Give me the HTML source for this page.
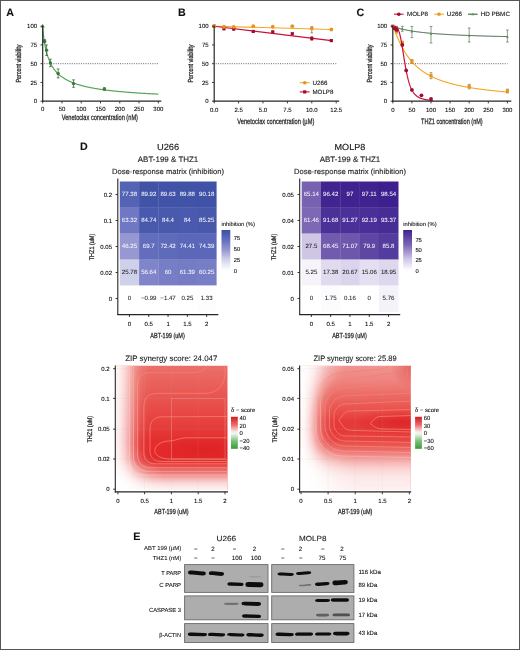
<!DOCTYPE html>
<html><head><meta charset="utf-8"><title>Figure</title>
<style>
html,body{margin:0;padding:0;background:#fff;}
body{width:520px;height:650px;overflow:hidden;}
svg{display:block;font-family:"Liberation Sans",sans-serif;text-rendering:geometricPrecision;will-change:transform;}
</style></head><body>
<svg width="520" height="650" viewBox="0 0 520 650">
<rect width="520" height="650" fill="#fff"/>
<defs><filter id="soft" x="-5%" y="-5%" width="110%" height="110%"><feGaussianBlur stdDeviation="0.35"/></filter></defs>
<text x="6.2" y="15.8" font-size="10.7" stroke="#111" stroke-width="0.1" fill="#111" font-weight="bold" stroke="#111" stroke-width="0.35">A</text>
<line x1="44.2" y1="63.7" x2="158.5" y2="63.7" stroke="#555" stroke-width="0.9" stroke-dasharray="1 1.3"/>
<path d="M42.7 26.2 L42.89 29.2 L43.09 31.44 L43.28 33.4 L43.47 35.15 L43.66 36.76 L43.86 38.24 L44.05 39.63 L44.24 40.92 L44.43 42.14 L44.63 43.3 L44.82 44.39 L45.01 45.43 L45.21 46.42 L45.4 47.36 L45.59 48.26 L45.78 49.13 L45.98 49.96 L46.17 50.75 L46.36 51.52 L46.55 52.25 L46.75 52.96 L46.94 53.65 L47.13 54.31 L47.32 54.95 L47.52 55.56 L47.71 56.16 L47.9 56.74 L48.1 57.3 L48.29 57.85 L48.48 58.37 L48.67 58.89 L48.87 59.39 L49.06 59.87 L49.25 60.34 L49.44 60.8 L49.64 61.25 L49.83 61.68 L50.02 62.11 L50.22 62.52 L50.41 62.92 L50.6 63.32 L50.79 63.7 L50.99 64.08 L51.18 64.44 L51.37 64.8 L51.56 65.15 L51.76 65.49 L51.95 65.83 L52.14 66.15 L52.34 66.47 L52.53 66.79 L52.72 67.09 L52.91 67.4 L53.11 67.69 L53.3 67.98 L53.49 68.26 L53.68 68.54 L53.88 68.81 L54.07 69.08 L54.26 69.34 L54.45 69.6 L54.65 69.85 L54.84 70.1 L55.03 70.34 L55.23 70.58 L55.42 70.82 L55.61 71.05 L55.8 71.27 L56 71.5 L56.19 71.72 L56.38 71.93 L56.57 72.14 L56.77 72.35 L56.96 72.56 L57.15 72.76 L57.35 72.96 L57.54 73.15 L57.73 73.34 L57.92 73.53 L58.12 73.72 L58.31 73.9 L58.5 74.08 L58.69 74.26 L58.89 74.44 L59.08 74.61 L59.27 74.78 L59.46 74.95 L59.66 75.11 L59.85 75.28 L60.04 75.44 L60.24 75.6 L60.43 75.75 L60.62 75.91 L60.81 76.06 L61.01 76.21 L61.2 76.36 L61.39 76.5 L61.58 76.65 L61.78 76.79 L61.97 76.93 L62.16 77.07 L62.36 77.21 L62.55 77.34 L62.74 77.48 L62.93 77.61 L63.13 77.74 L63.32 77.87 L63.51 77.99 L63.7 78.12 L63.9 78.24 L64.09 78.36 L64.28 78.49 L64.48 78.6 L64.67 78.72 L64.86 78.84 L65.05 78.95 L65.25 79.07 L65.44 79.18 L65.63 79.29 L65.82 79.4 L66.02 79.51 L66.21 79.62 L66.4 79.73 L66.59 79.83 L66.79 79.94 L66.98 80.04 L67.17 80.14 L67.37 80.24 L67.56 80.34 L67.75 80.44 L67.94 80.54 L68.14 80.63 L68.33 80.73 L68.52 80.82 L68.71 80.92 L68.91 81.01 L69.1 81.1 L69.29 81.19 L69.49 81.28 L69.68 81.37 L69.87 81.46 L70.06 81.55 L70.26 81.63 L70.45 81.72 L70.64 81.8 L70.83 81.89 L71.03 81.97 L71.22 82.05 L71.41 82.13 L71.61 82.22 L71.8 82.3 L71.99 82.37 L72.18 82.45 L72.38 82.53 L72.57 82.61 L72.76 82.68 L72.95 82.76 L73.15 82.84 L73.34 82.91 L73.53 82.98 L73.72 83.06 L73.92 83.13 L74.11 83.2 L74.3 83.27 L74.5 83.34 L74.69 83.41 L74.88 83.48 L75.07 83.55 L75.27 83.62 L75.46 83.68 L75.65 83.75 L75.84 83.82 L76.04 83.88 L76.23 83.95 L76.42 84.01 L76.62 84.08 L76.81 84.14 L77 84.2 L77.19 84.27 L77.39 84.33 L77.58 84.39 L77.77 84.45 L77.96 84.51 L78.16 84.57 L78.35 84.63 L78.54 84.69 L78.73 84.75 L78.93 84.81 L79.12 84.86 L79.31 84.92 L79.51 84.98 L79.7 85.03 L79.89 85.09 L80.08 85.15 L80.28 85.2 L80.47 85.26 L80.66 85.31 L80.85 85.36 L81.05 85.42 L81.24 85.47 L81.43 85.52 L81.63 85.58 L81.82 85.63 L82.01 85.68 L82.2 85.73 L82.4 85.78 L82.59 85.83 L82.78 85.88 L82.97 85.93 L83.17 85.98 L83.36 86.03 L83.55 86.08 L83.75 86.13 L83.94 86.17 L84.13 86.22 L84.32 86.27 L84.52 86.31 L84.71 86.36 L84.9 86.41 L85.09 86.45 L85.29 86.5 L85.48 86.54 L85.67 86.59 L85.86 86.63 L86.06 86.68 L86.25 86.72 L86.44 86.77 L86.64 86.81 L86.83 86.85 L87.02 86.9 L87.21 86.94 L87.41 86.98 L87.6 87.02 L87.79 87.06 L87.98 87.11 L88.18 87.15 L88.37 87.19 L88.56 87.23 L88.76 87.27 L88.95 87.31 L89.14 87.35 L89.33 87.39 L89.53 87.43 L89.72 87.47 L89.91 87.51 L90.1 87.55 L90.3 87.58 L90.49 87.62 L90.68 87.66 L90.88 87.7 L91.07 87.74 L91.26 87.77 L91.45 87.81 L91.65 87.85 L91.84 87.88 L92.03 87.92 L92.22 87.96 L92.42 87.99 L92.61 88.03 L92.8 88.06 L92.99 88.1 L93.19 88.13 L93.38 88.17 L93.57 88.2 L93.77 88.24 L93.96 88.27 L94.15 88.31 L94.34 88.34 L94.54 88.37 L94.73 88.41 L94.92 88.44 L95.11 88.47 L95.31 88.51 L95.5 88.54 L95.69 88.57 L95.89 88.6 L96.08 88.64 L96.27 88.67 L96.46 88.7 L96.66 88.73 L96.85 88.76 L97.04 88.8 L97.23 88.83 L97.43 88.86 L97.62 88.89 L97.81 88.92 L98 88.95 L98.2 88.98 L98.39 89.01 L98.58 89.04 L98.78 89.07 L98.97 89.1 L99.16 89.13 L99.35 89.16 L99.55 89.19 L99.74 89.22 L99.93 89.24 L100.12 89.27 L100.32 89.3 L100.51 89.33 L100.7 89.36 L100.9 89.39 L101.09 89.41 L101.28 89.44 L101.47 89.47 L101.67 89.5 L101.86 89.52 L102.05 89.55 L102.24 89.58 L102.44 89.61 L102.63 89.63 L102.82 89.66 L103.02 89.69 L103.21 89.71 L103.4 89.74 L103.59 89.76 L103.79 89.79 L103.98 89.82 L104.17 89.84 L104.36 89.87 L104.56 89.89 L104.75 89.92 L104.94 89.94 L105.13 89.97 L105.33 89.99 L105.52 90.02 L105.71 90.04 L105.91 90.07 L106.1 90.09 L106.29 90.12 L106.48 90.14 L106.68 90.17 L106.87 90.19 L107.06 90.21 L107.25 90.24 L107.45 90.26 L107.64 90.28 L107.83 90.31 L108.03 90.33 L108.22 90.35 L108.41 90.38 L108.6 90.4 L108.8 90.42 L108.99 90.45 L109.18 90.47 L109.37 90.49 L109.57 90.51 L109.76 90.54 L109.95 90.56 L110.15 90.58 L110.34 90.6 L110.53 90.63 L110.72 90.65 L110.92 90.67 L111.11 90.69 L111.3 90.71 L111.49 90.73 L111.69 90.76 L111.88 90.78 L112.07 90.8 L112.26 90.82 L112.46 90.84 L112.65 90.86 L112.84 90.88 L113.04 90.9 L113.23 90.92 L113.42 90.94 L113.61 90.96 L113.81 90.98 L114 91 L114.19 91.02 L114.38 91.05 L114.58 91.07 L114.77 91.09 L114.96 91.1 L115.16 91.12 L115.35 91.14 L115.54 91.16 L115.73 91.18 L115.93 91.2 L116.12 91.22 L116.31 91.24 L116.5 91.26 L116.7 91.28 L116.89 91.3 L117.08 91.32 L117.27 91.34 L117.47 91.36 L117.66 91.37 L117.85 91.39 L118.05 91.41 L118.24 91.43 L118.43 91.45 L118.62 91.47 L118.82 91.48 L119.01 91.5 L119.2 91.52 L119.39 91.54 L119.59 91.56 L119.78 91.57 L119.97 91.59 L120.17 91.61 L120.36 91.63 L120.55 91.65 L120.74 91.66 L120.94 91.68 L121.13 91.7 L121.32 91.71 L121.51 91.73 L121.71 91.75 L121.9 91.77 L122.09 91.78 L122.29 91.8 L122.48 91.82 L122.67 91.83 L122.86 91.85 L123.06 91.87 L123.25 91.88 L123.44 91.9 L123.63 91.92 L123.83 91.93 L124.02 91.95 L124.21 91.97 L124.4 91.98 L124.6 92 L124.79 92.01 L124.98 92.03 L125.18 92.05 L125.37 92.06 L125.56 92.08 L125.75 92.09 L125.95 92.11 L126.14 92.13 L126.33 92.14 L126.52 92.16 L126.72 92.17 L126.91 92.19 L127.1 92.2 L127.3 92.22 L127.49 92.23 L127.68 92.25 L127.87 92.26 L128.07 92.28 L128.26 92.29 L128.45 92.31 L128.64 92.32 L128.84 92.34 L129.03 92.35 L129.22 92.37 L129.42 92.38 L129.61 92.4 L129.8 92.41 L129.99 92.43 L130.19 92.44 L130.38 92.46 L130.57 92.47 L130.76 92.49 L130.96 92.5 L131.15 92.51 L131.34 92.53 L131.53 92.54 L131.73 92.56 L131.92 92.57 L132.11 92.58 L132.31 92.6 L132.5 92.61 L132.69 92.63 L132.88 92.64 L133.08 92.65 L133.27 92.67 L133.46 92.68 L133.65 92.69 L133.85 92.71 L134.04 92.72 L134.23 92.74 L134.43 92.75 L134.62 92.76 L134.81 92.78 L135 92.79 L135.2 92.8 L135.39 92.81 L135.58 92.83 L135.77 92.84 L135.97 92.85 L136.16 92.87 L136.35 92.88 L136.54 92.89 L136.74 92.91 L136.93 92.92 L137.12 92.93 L137.32 92.94 L137.51 92.96 L137.7 92.97 L137.89 92.98 L138.09 92.99 L138.28 93.01 L138.47 93.02 L138.66 93.03 L138.86 93.04 L139.05 93.06 L139.24 93.07 L139.44 93.08 L139.63 93.09 L139.82 93.11 L140.01 93.12 L140.21 93.13 L140.4 93.14 L140.59 93.15 L140.78 93.17 L140.98 93.18 L141.17 93.19 L141.36 93.2 L141.56 93.21 L141.75 93.23 L141.94 93.24 L142.13 93.25 L142.33 93.26 L142.52 93.27 L142.71 93.28 L142.9 93.3 L143.1 93.31 L143.29 93.32 L143.48 93.33 L143.67 93.34 L143.87 93.35 L144.06 93.36 L144.25 93.38 L144.45 93.39 L144.64 93.4 L144.83 93.41 L145.02 93.42 L145.22 93.43 L145.41 93.44 L145.6 93.45 L145.79 93.47 L145.99 93.48 L146.18 93.49 L146.37 93.5 L146.57 93.51 L146.76 93.52 L146.95 93.53 L147.14 93.54 L147.34 93.55 L147.53 93.56 L147.72 93.57 L147.91 93.58 L148.11 93.59 L148.3 93.61 L148.49 93.62 L148.69 93.63 L148.88 93.64 L149.07 93.65 L149.26 93.66 L149.46 93.67 L149.65 93.68 L149.84 93.69 L150.03 93.7 L150.23 93.71 L150.42 93.72 L150.61 93.73 L150.8 93.74 L151 93.75 L151.19 93.76 L151.38 93.77 L151.58 93.78 L151.77 93.79 L151.96 93.8 L152.15 93.81 L152.35 93.82 L152.54 93.83 L152.73 93.84 L152.92 93.85 L153.12 93.86 L153.31 93.87 L153.5 93.88 L153.7 93.89 L153.89 93.9 L154.08 93.91 L154.27 93.92 L154.47 93.93 L154.66 93.94 L154.85 93.95 L155.04 93.96 L155.24 93.97 L155.43 93.98 L155.62 93.99 L155.81 94 L156.01 94 L156.2 94.01 L156.39 94.02 L156.59 94.03 L156.78 94.04 L156.97 94.05 L157.16 94.06 L157.36 94.07 L157.55 94.08 L157.74 94.09 L157.93 94.1 L158.13 94.11 L158.32 94.12" stroke="#55a555" fill="none" stroke-width="1.2" />
<line x1="44.63" y1="39.7" x2="44.63" y2="42.7" stroke="#3a4f3a" stroke-width="0.7" />
<line x1="43.23" y1="39.7" x2="46.03" y2="39.7" stroke="#3a4f3a" stroke-width="0.7" />
<line x1="43.23" y1="42.7" x2="46.03" y2="42.7" stroke="#3a4f3a" stroke-width="0.7" />
<line x1="46.55" y1="44.95" x2="46.55" y2="55.45" stroke="#3a4f3a" stroke-width="0.7" />
<line x1="45.15" y1="44.95" x2="47.95" y2="44.95" stroke="#3a4f3a" stroke-width="0.7" />
<line x1="45.15" y1="55.45" x2="47.95" y2="55.45" stroke="#3a4f3a" stroke-width="0.7" />
<line x1="50.41" y1="59.2" x2="50.41" y2="66.7" stroke="#3a4f3a" stroke-width="0.7" />
<line x1="49.01" y1="59.2" x2="51.81" y2="59.2" stroke="#3a4f3a" stroke-width="0.7" />
<line x1="49.01" y1="66.7" x2="51.81" y2="66.7" stroke="#3a4f3a" stroke-width="0.7" />
<line x1="58.12" y1="68.95" x2="58.12" y2="77.95" stroke="#3a4f3a" stroke-width="0.7" />
<line x1="56.72" y1="68.95" x2="59.52" y2="68.95" stroke="#3a4f3a" stroke-width="0.7" />
<line x1="56.72" y1="77.95" x2="59.52" y2="77.95" stroke="#3a4f3a" stroke-width="0.7" />
<line x1="73.53" y1="79.83" x2="73.53" y2="87.33" stroke="#3a4f3a" stroke-width="0.7" />
<line x1="72.13" y1="79.83" x2="74.93" y2="79.83" stroke="#3a4f3a" stroke-width="0.7" />
<line x1="72.13" y1="87.33" x2="74.93" y2="87.33" stroke="#3a4f3a" stroke-width="0.7" />
<line x1="104.36" y1="87.85" x2="104.36" y2="90.1" stroke="#3a4f3a" stroke-width="0.7" />
<line x1="102.96" y1="87.85" x2="105.76" y2="87.85" stroke="#3a4f3a" stroke-width="0.7" />
<line x1="102.96" y1="90.1" x2="105.76" y2="90.1" stroke="#3a4f3a" stroke-width="0.7" />
<circle cx="44.63" cy="41.2" r="1.7" fill="#357a35"/>
<circle cx="46.55" cy="50.2" r="1.7" fill="#357a35"/>
<circle cx="50.41" cy="62.95" r="1.7" fill="#357a35"/>
<circle cx="58.12" cy="73.45" r="1.7" fill="#357a35"/>
<circle cx="73.53" cy="83.58" r="1.7" fill="#357a35"/>
<circle cx="104.36" cy="88.97" r="1.7" fill="#357a35"/>
<path d="M42.7 23.84 L44.86 27.62 L40.54 27.62 Z" stroke="none" fill="#3aa03a" stroke-width="1" />
<line x1="42.7" y1="25.7" x2="42.7" y2="101.8" stroke="#262626" stroke-width="1.2" />
<line x1="40.5" y1="101.2" x2="42.7" y2="101.2" stroke="#262626" stroke-width="0.9" />
<text x="37.1" y="103.35" font-size="6" stroke="#333" stroke-width="0.1" text-anchor="end">0</text>
<line x1="40.5" y1="82.45" x2="42.7" y2="82.45" stroke="#262626" stroke-width="0.9" />
<text x="37.1" y="84.6" font-size="6" stroke="#333" stroke-width="0.1" text-anchor="end">25</text>
<line x1="40.5" y1="63.7" x2="42.7" y2="63.7" stroke="#262626" stroke-width="0.9" />
<text x="37.1" y="65.85" font-size="6" stroke="#333" stroke-width="0.1" text-anchor="end">50</text>
<line x1="40.5" y1="44.95" x2="42.7" y2="44.95" stroke="#262626" stroke-width="0.9" />
<text x="37.1" y="47.1" font-size="6" stroke="#333" stroke-width="0.1" text-anchor="end">75</text>
<line x1="40.5" y1="26.2" x2="42.7" y2="26.2" stroke="#262626" stroke-width="0.9" />
<text x="37.1" y="28.35" font-size="6" stroke="#333" stroke-width="0.1" text-anchor="end">100</text>
<text x="18.8" y="63.6" font-size="7.4" stroke="#222" stroke-width="0.25" text-anchor="middle" fill="#222" textLength="38" lengthAdjust="spacingAndGlyphs" transform="rotate(-90 18.8 63.6)" dy="2.4">Percent viability</text>
<line x1="42.1" y1="101.2" x2="161.3" y2="101.2" stroke="#262626" stroke-width="1.2" />
<line x1="42.7" y1="101.2" x2="42.7" y2="103.4" stroke="#262626" stroke-width="0.9" />
<text x="42.7" y="111" font-size="6" stroke="#333" stroke-width="0.1" text-anchor="middle">0</text>
<line x1="61.97" y1="101.2" x2="61.97" y2="103.4" stroke="#262626" stroke-width="0.9" />
<text x="61.97" y="111" font-size="6" stroke="#333" stroke-width="0.1" text-anchor="middle">50</text>
<line x1="81.24" y1="101.2" x2="81.24" y2="103.4" stroke="#262626" stroke-width="0.9" />
<text x="81.24" y="111" font-size="6" stroke="#333" stroke-width="0.1" text-anchor="middle">100</text>
<line x1="100.51" y1="101.2" x2="100.51" y2="103.4" stroke="#262626" stroke-width="0.9" />
<text x="100.51" y="111" font-size="6" stroke="#333" stroke-width="0.1" text-anchor="middle">150</text>
<line x1="119.78" y1="101.2" x2="119.78" y2="103.4" stroke="#262626" stroke-width="0.9" />
<text x="119.78" y="111" font-size="6" stroke="#333" stroke-width="0.1" text-anchor="middle">200</text>
<line x1="139.05" y1="101.2" x2="139.05" y2="103.4" stroke="#262626" stroke-width="0.9" />
<text x="139.05" y="111" font-size="6" stroke="#333" stroke-width="0.1" text-anchor="middle">250</text>
<line x1="158.32" y1="101.2" x2="158.32" y2="103.4" stroke="#262626" stroke-width="0.9" />
<text x="158.32" y="111" font-size="6" stroke="#333" stroke-width="0.1" text-anchor="middle">300</text>
<text x="61.7" y="120.1" font-size="7.9" stroke="#222" stroke-width="0.25" fill="#222" textLength="76.3" lengthAdjust="spacingAndGlyphs">Venetoclax concentration (nM)</text>
<text x="178" y="15.8" font-size="10.7" stroke="#111" stroke-width="0.1" fill="#111" font-weight="bold" stroke="#111" stroke-width="0.35">B</text>
<line x1="215.7" y1="63.7" x2="336.5" y2="63.7" stroke="#555" stroke-width="0.9" stroke-dasharray="1 1.3"/>
<path d="M214.2 26.2 L331.32 29.5" stroke="#f5a623" fill="none" stroke-width="1.1" />
<path d="M214.2 26.2 L331.32 40.6" stroke="#c8103a" fill="none" stroke-width="1.1" />
<line x1="311.8" y1="26.58" x2="311.8" y2="32.95" stroke="#8a6a3a" stroke-width="0.7" />
<line x1="310.5" y1="26.58" x2="313.1" y2="26.58" stroke="#8a6a3a" stroke-width="0.7" />
<line x1="310.5" y1="32.95" x2="313.1" y2="32.95" stroke="#8a6a3a" stroke-width="0.7" />
<line x1="311.8" y1="36.7" x2="311.8" y2="40.08" stroke="#a00d2c" stroke-width="0.7" />
<line x1="310.5" y1="36.7" x2="313.1" y2="36.7" stroke="#a00d2c" stroke-width="0.7" />
<line x1="310.5" y1="40.08" x2="313.1" y2="40.08" stroke="#a00d2c" stroke-width="0.7" />
<line x1="233.72" y1="27.33" x2="233.72" y2="30.33" stroke="#a00d2c" stroke-width="0.7" />
<line x1="232.42" y1="27.33" x2="235.02" y2="27.33" stroke="#a00d2c" stroke-width="0.7" />
<line x1="232.42" y1="30.33" x2="235.02" y2="30.33" stroke="#a00d2c" stroke-width="0.7" />
<rect x="212.6" y="24.6" width="3.2" height="3.2" fill="#a00d2c" />
<rect x="222.36" y="27.23" width="3.2" height="3.2" fill="#a00d2c" />
<rect x="232.12" y="27.23" width="3.2" height="3.2" fill="#a00d2c" />
<rect x="251.64" y="29.85" width="3.2" height="3.2" fill="#a00d2c" />
<rect x="271.16" y="30.23" width="3.2" height="3.2" fill="#a00d2c" />
<rect x="290.68" y="32.1" width="3.2" height="3.2" fill="#a00d2c" />
<rect x="310.2" y="36.98" width="3.2" height="3.2" fill="#a00d2c" />
<rect x="329.72" y="39" width="3.2" height="3.2" fill="#a00d2c" />
<circle cx="214.2" cy="26.2" r="1.9" fill="#e8951a"/>
<circle cx="223.96" cy="26.73" r="1.9" fill="#e8951a"/>
<circle cx="233.72" cy="26.8" r="1.9" fill="#e8951a"/>
<circle cx="253.24" cy="26.2" r="1.9" fill="#e8951a"/>
<circle cx="272.76" cy="26.73" r="1.9" fill="#e8951a"/>
<circle cx="292.28" cy="26.2" r="1.9" fill="#e8951a"/>
<circle cx="311.8" cy="28.45" r="1.9" fill="#e8951a"/>
<circle cx="331.32" cy="29.5" r="1.9" fill="#e8951a"/>
<line x1="299.8" y1="82.7" x2="309.6" y2="82.7" stroke="#f5a623" stroke-width="1.1" />
<circle cx="304.7" cy="82.7" r="1.8" fill="#e8951a"/>
<text x="312.5" y="84.9" font-size="6.2" stroke="#333" stroke-width="0.1" textLength="15" lengthAdjust="spacingAndGlyphs">U266</text>
<line x1="299.8" y1="91.9" x2="309.6" y2="91.9" stroke="#c8103a" stroke-width="1.1" />
<rect x="303.1" y="90.3" width="3.2" height="3.2" fill="#a00d2c" />
<text x="312.5" y="94.1" font-size="6.2" stroke="#333" stroke-width="0.1" textLength="20.8" lengthAdjust="spacingAndGlyphs">MOLP8</text>
<line x1="214.2" y1="25.7" x2="214.2" y2="101.8" stroke="#262626" stroke-width="1.2" />
<line x1="212" y1="101.2" x2="214.2" y2="101.2" stroke="#262626" stroke-width="0.9" />
<text x="208.6" y="103.35" font-size="6" stroke="#333" stroke-width="0.1" text-anchor="end">0</text>
<line x1="212" y1="82.45" x2="214.2" y2="82.45" stroke="#262626" stroke-width="0.9" />
<text x="208.6" y="84.6" font-size="6" stroke="#333" stroke-width="0.1" text-anchor="end">25</text>
<line x1="212" y1="63.7" x2="214.2" y2="63.7" stroke="#262626" stroke-width="0.9" />
<text x="208.6" y="65.85" font-size="6" stroke="#333" stroke-width="0.1" text-anchor="end">50</text>
<line x1="212" y1="44.95" x2="214.2" y2="44.95" stroke="#262626" stroke-width="0.9" />
<text x="208.6" y="47.1" font-size="6" stroke="#333" stroke-width="0.1" text-anchor="end">75</text>
<line x1="212" y1="26.2" x2="214.2" y2="26.2" stroke="#262626" stroke-width="0.9" />
<text x="208.6" y="28.35" font-size="6" stroke="#333" stroke-width="0.1" text-anchor="end">100</text>
<text x="190.6" y="63.6" font-size="7.4" stroke="#222" stroke-width="0.25" text-anchor="middle" fill="#222" textLength="38" lengthAdjust="spacingAndGlyphs" transform="rotate(-90 190.6 63.6)" dy="2.4">Percent viability</text>
<line x1="213.6" y1="101.2" x2="339.2" y2="101.2" stroke="#262626" stroke-width="1.2" />
<line x1="214.2" y1="101.2" x2="214.2" y2="103.4" stroke="#262626" stroke-width="0.9" />
<text x="214.2" y="112.4" font-size="6" stroke="#333" stroke-width="0.1" text-anchor="middle">0.0</text>
<line x1="238.6" y1="101.2" x2="238.6" y2="103.4" stroke="#262626" stroke-width="0.9" />
<text x="238.6" y="112.4" font-size="6" stroke="#333" stroke-width="0.1" text-anchor="middle">2.5</text>
<line x1="263" y1="101.2" x2="263" y2="103.4" stroke="#262626" stroke-width="0.9" />
<text x="263" y="112.4" font-size="6" stroke="#333" stroke-width="0.1" text-anchor="middle">5.0</text>
<line x1="287.4" y1="101.2" x2="287.4" y2="103.4" stroke="#262626" stroke-width="0.9" />
<text x="287.4" y="112.4" font-size="6" stroke="#333" stroke-width="0.1" text-anchor="middle">7.5</text>
<line x1="311.8" y1="101.2" x2="311.8" y2="103.4" stroke="#262626" stroke-width="0.9" />
<text x="311.8" y="112.4" font-size="6" stroke="#333" stroke-width="0.1" text-anchor="middle">10.0</text>
<line x1="336.2" y1="101.2" x2="336.2" y2="103.4" stroke="#262626" stroke-width="0.9" />
<text x="336.2" y="112.4" font-size="6" stroke="#333" stroke-width="0.1" text-anchor="middle">12.5</text>
<text x="237.3" y="123.6" font-size="7.9" stroke="#222" stroke-width="0.25" fill="#222" textLength="77" lengthAdjust="spacingAndGlyphs">Venetoclax concentration (µM)</text>
<text x="356.6" y="15.9" font-size="10.7" stroke="#111" stroke-width="0.1" fill="#111" font-weight="bold" stroke="#111" stroke-width="0.35">C</text>
<line x1="394.3" y1="63.7" x2="507.5" y2="63.7" stroke="#555" stroke-width="0.9" stroke-dasharray="1 1.3"/>
<path d="M392.8 26.2 L393.56 26.49 L394.33 26.77 L395.09 27.04 L395.86 27.3 L396.62 27.55 L397.38 27.79 L398.15 28.02 L398.91 28.24 L399.68 28.45 L400.44 28.65 L401.2 28.85 L401.97 29.04 L402.73 29.23 L403.5 29.4 L404.26 29.58 L405.02 29.74 L405.79 29.9 L406.55 30.06 L407.32 30.21 L408.08 30.35 L408.84 30.5 L409.61 30.63 L410.37 30.77 L411.14 30.9 L411.9 31.02 L412.66 31.14 L413.43 31.26 L414.19 31.38 L414.96 31.49 L415.72 31.6 L416.48 31.71 L417.25 31.81 L418.01 31.91 L418.78 32.01 L419.54 32.11 L420.3 32.2 L421.07 32.29 L421.83 32.38 L422.6 32.47 L423.36 32.55 L424.12 32.64 L424.89 32.72 L425.65 32.8 L426.42 32.87 L427.18 32.95 L427.94 33.02 L428.71 33.1 L429.47 33.17 L430.24 33.24 L431 33.31 L431.76 33.37 L432.53 33.44 L433.29 33.5 L434.06 33.56 L434.82 33.63 L435.58 33.69 L436.35 33.74 L437.11 33.8 L437.88 33.86 L438.64 33.91 L439.4 33.97 L440.17 34.02 L440.93 34.08 L441.7 34.13 L442.46 34.18 L443.22 34.23 L443.99 34.28 L444.75 34.32 L445.52 34.37 L446.28 34.42 L447.04 34.46 L447.81 34.51 L448.57 34.55 L449.34 34.59 L450.1 34.64 L450.86 34.68 L451.63 34.72 L452.39 34.76 L453.16 34.8 L453.92 34.84 L454.68 34.88 L455.45 34.92 L456.21 34.95 L456.98 34.99 L457.74 35.03 L458.5 35.06 L459.27 35.1 L460.03 35.13 L460.8 35.17 L461.56 35.2 L462.32 35.23 L463.09 35.27 L463.85 35.3 L464.62 35.33 L465.38 35.36 L466.14 35.39 L466.91 35.42 L467.67 35.45 L468.44 35.48 L469.2 35.51 L469.96 35.54 L470.73 35.57 L471.49 35.6 L472.26 35.62 L473.02 35.65 L473.78 35.68 L474.55 35.7 L475.31 35.73 L476.08 35.76 L476.84 35.78 L477.6 35.81 L478.37 35.83 L479.13 35.86 L479.9 35.88 L480.66 35.9 L481.42 35.93 L482.19 35.95 L482.95 35.97 L483.72 36 L484.48 36.02 L485.24 36.04 L486.01 36.06 L486.77 36.08 L487.54 36.11 L488.3 36.13 L489.06 36.15 L489.83 36.17 L490.59 36.19 L491.36 36.21 L492.12 36.23 L492.88 36.25 L493.65 36.27 L494.41 36.29 L495.18 36.31 L495.94 36.33 L496.7 36.34 L497.47 36.36 L498.23 36.38 L499 36.4 L499.76 36.42 L500.52 36.43 L501.29 36.45 L502.05 36.47 L502.82 36.49 L503.58 36.5 L504.34 36.52 L505.11 36.54 L505.87 36.55 L506.64 36.57 L507.4 36.58" stroke="#3f5a40" fill="none" stroke-width="1" />
<line x1="396.62" y1="26.58" x2="396.62" y2="28.83" stroke="#5a7a5a" stroke-width="0.7" />
<line x1="395.22" y1="26.58" x2="398.02" y2="26.58" stroke="#5a7a5a" stroke-width="0.7" />
<line x1="395.22" y1="28.83" x2="398.02" y2="28.83" stroke="#5a7a5a" stroke-width="0.7" />
<path d="M396.62 26.26 L398.06 28.78 L395.18 28.78 Z" stroke="none" fill="#4a9a4a" stroke-width="1" />
<line x1="402.35" y1="26.42" x2="402.35" y2="31.23" stroke="#5a7a5a" stroke-width="0.7" />
<line x1="400.95" y1="26.42" x2="403.75" y2="26.42" stroke="#5a7a5a" stroke-width="0.7" />
<line x1="400.95" y1="31.23" x2="403.75" y2="31.23" stroke="#5a7a5a" stroke-width="0.7" />
<path d="M402.35 27.39 L403.79 29.91 L400.91 29.91 Z" stroke="none" fill="#4a9a4a" stroke-width="1" />
<line x1="411.9" y1="26.42" x2="411.9" y2="37.67" stroke="#5a7a5a" stroke-width="0.7" />
<line x1="410.5" y1="26.42" x2="413.3" y2="26.42" stroke="#5a7a5a" stroke-width="0.7" />
<line x1="410.5" y1="37.67" x2="413.3" y2="37.67" stroke="#5a7a5a" stroke-width="0.7" />
<path d="M411.9 29.86 L413.34 32.38 L410.46 32.38 Z" stroke="none" fill="#4a9a4a" stroke-width="1" />
<line x1="431" y1="26.5" x2="431" y2="43" stroke="#5a7a5a" stroke-width="0.7" />
<line x1="429.6" y1="26.5" x2="432.4" y2="26.5" stroke="#5a7a5a" stroke-width="0.7" />
<line x1="429.6" y1="43" x2="432.4" y2="43" stroke="#5a7a5a" stroke-width="0.7" />
<path d="M431 32.19 L432.44 34.71 L429.56 34.71 Z" stroke="none" fill="#4a9a4a" stroke-width="1" />
<line x1="469.2" y1="28" x2="469.2" y2="42.02" stroke="#5a7a5a" stroke-width="0.7" />
<line x1="467.8" y1="28" x2="470.6" y2="28" stroke="#5a7a5a" stroke-width="0.7" />
<line x1="467.8" y1="42.02" x2="470.6" y2="42.02" stroke="#5a7a5a" stroke-width="0.7" />
<path d="M469.2 33.98 L470.64 36.5 L467.76 36.5 Z" stroke="none" fill="#4a9a4a" stroke-width="1" />
<line x1="507.4" y1="30.02" x2="507.4" y2="42.02" stroke="#5a7a5a" stroke-width="0.7" />
<line x1="506" y1="30.02" x2="508.8" y2="30.02" stroke="#5a7a5a" stroke-width="0.7" />
<line x1="506" y1="42.02" x2="508.8" y2="42.02" stroke="#5a7a5a" stroke-width="0.7" />
<path d="M507.4 35.33 L508.84 37.85 L505.96 37.85 Z" stroke="none" fill="#4a9a4a" stroke-width="1" />
<path d="M392.8 26.2 L392.99 26.52 L393.18 26.91 L393.37 27.33 L393.56 27.77 L393.75 28.22 L393.95 28.68 L394.14 29.15 L394.33 29.62 L394.52 30.1 L394.71 30.57 L394.9 31.05 L395.09 31.53 L395.28 32.01 L395.47 32.49 L395.67 32.96 L395.86 33.44 L396.05 33.91 L396.24 34.38 L396.43 34.85 L396.62 35.32 L396.81 35.78 L397 36.24 L397.19 36.7 L397.38 37.15 L397.57 37.6 L397.77 38.05 L397.96 38.49 L398.15 38.93 L398.34 39.37 L398.53 39.8 L398.72 40.23 L398.91 40.66 L399.1 41.08 L399.29 41.49 L399.49 41.91 L399.68 42.32 L399.87 42.72 L400.06 43.12 L400.25 43.52 L400.44 43.92 L400.63 44.31 L400.82 44.69 L401.01 45.08 L401.2 45.46 L401.4 45.83 L401.59 46.2 L401.78 46.57 L401.97 46.94 L402.16 47.3 L402.35 47.65 L402.54 48.01 L402.73 48.36 L402.92 48.7 L403.11 49.05 L403.31 49.39 L403.5 49.72 L403.69 50.06 L403.88 50.39 L404.07 50.71 L404.26 51.03 L404.45 51.35 L404.64 51.67 L404.83 51.98 L405.02 52.29 L405.22 52.6 L405.41 52.9 L405.6 53.2 L405.79 53.5 L405.98 53.8 L406.17 54.09 L406.36 54.38 L406.55 54.66 L406.74 54.95 L406.93 55.23 L407.12 55.5 L407.32 55.78 L407.51 56.05 L407.7 56.32 L407.89 56.59 L408.08 56.85 L408.27 57.11 L408.46 57.37 L408.65 57.63 L408.84 57.88 L409.04 58.13 L409.23 58.38 L409.42 58.63 L409.61 58.87 L409.8 59.12 L409.99 59.36 L410.18 59.59 L410.37 59.83 L410.56 60.06 L410.75 60.29 L410.94 60.52 L411.14 60.75 L411.33 60.97 L411.52 61.19 L411.71 61.41 L411.9 61.63 L412.09 61.84 L412.28 62.06 L412.47 62.27 L412.66 62.48 L412.86 62.69 L413.05 62.89 L413.24 63.1 L413.43 63.3 L413.62 63.5 L413.81 63.7 L414 63.9 L414.19 64.09 L414.38 64.29 L414.57 64.48 L414.76 64.67 L414.96 64.85 L415.15 65.04 L415.34 65.23 L415.53 65.41 L415.72 65.59 L415.91 65.77 L416.1 65.95 L416.29 66.13 L416.48 66.3 L416.68 66.48 L416.87 66.65 L417.06 66.82 L417.25 66.99 L417.44 67.16 L417.63 67.32 L417.82 67.49 L418.01 67.65 L418.2 67.81 L418.39 67.97 L418.59 68.13 L418.78 68.29 L418.97 68.45 L419.16 68.6 L419.35 68.76 L419.54 68.91 L419.73 69.06 L419.92 69.21 L420.11 69.36 L420.3 69.51 L420.5 69.66 L420.69 69.8 L420.88 69.95 L421.07 70.09 L421.26 70.23 L421.45 70.37 L421.64 70.51 L421.83 70.65 L422.02 70.79 L422.21 70.93 L422.41 71.06 L422.6 71.2 L422.79 71.33 L422.98 71.46 L423.17 71.59 L423.36 71.72 L423.55 71.85 L423.74 71.98 L423.93 72.11 L424.12 72.23 L424.31 72.36 L424.51 72.48 L424.7 72.61 L424.89 72.73 L425.08 72.85 L425.27 72.97 L425.46 73.09 L425.65 73.21 L425.84 73.33 L426.03 73.45 L426.23 73.56 L426.42 73.68 L426.61 73.79 L426.8 73.9 L426.99 74.02 L427.18 74.13 L427.37 74.24 L427.56 74.35 L427.75 74.46 L427.94 74.57 L428.13 74.68 L428.33 74.78 L428.52 74.89 L428.71 75 L428.9 75.1 L429.09 75.2 L429.28 75.31 L429.47 75.41 L429.66 75.51 L429.85 75.61 L430.05 75.71 L430.24 75.81 L430.43 75.91 L430.62 76.01 L430.81 76.11 L431 76.21 L431.19 76.3 L431.38 76.4 L431.57 76.49 L431.76 76.59 L431.96 76.68 L432.15 76.77 L432.34 76.87 L432.53 76.96 L432.72 77.05 L432.91 77.14 L433.1 77.23 L433.29 77.32 L433.48 77.41 L433.67 77.5 L433.87 77.58 L434.06 77.67 L434.25 77.76 L434.44 77.84 L434.63 77.93 L434.82 78.01 L435.01 78.1 L435.2 78.18 L435.39 78.26 L435.58 78.35 L435.78 78.43 L435.97 78.51 L436.16 78.59 L436.35 78.67 L436.54 78.75 L436.73 78.83 L436.92 78.91 L437.11 78.99 L437.3 79.07 L437.49 79.14 L437.69 79.22 L437.88 79.3 L438.07 79.37 L438.26 79.45 L438.45 79.52 L438.64 79.6 L438.83 79.67 L439.02 79.75 L439.21 79.82 L439.4 79.89 L439.6 79.96 L439.79 80.04 L439.98 80.11 L440.17 80.18 L440.36 80.25 L440.55 80.32 L440.74 80.39 L440.93 80.46 L441.12 80.53 L441.31 80.6 L441.5 80.66 L441.7 80.73 L441.89 80.8 L442.08 80.86 L442.27 80.93 L442.46 81 L442.65 81.06 L442.84 81.13 L443.03 81.19 L443.22 81.26 L443.42 81.32 L443.61 81.39 L443.8 81.45 L443.99 81.51 L444.18 81.57 L444.37 81.64 L444.56 81.7 L444.75 81.76 L444.94 81.82 L445.13 81.88 L445.32 81.94 L445.52 82 L445.71 82.06 L445.9 82.12 L446.09 82.18 L446.28 82.24 L446.47 82.3 L446.66 82.36 L446.85 82.42 L447.04 82.47 L447.24 82.53 L447.43 82.59 L447.62 82.64 L447.81 82.7 L448 82.76 L448.19 82.81 L448.38 82.87 L448.57 82.92 L448.76 82.98 L448.95 83.03 L449.14 83.09 L449.34 83.14 L449.53 83.19 L449.72 83.25 L449.91 83.3 L450.1 83.35 L450.29 83.4 L450.48 83.46 L450.67 83.51 L450.86 83.56 L451.06 83.61 L451.25 83.66 L451.44 83.71 L451.63 83.76 L451.82 83.81 L452.01 83.86 L452.2 83.91 L452.39 83.96 L452.58 84.01 L452.77 84.06 L452.97 84.11 L453.16 84.16 L453.35 84.21 L453.54 84.26 L453.73 84.3 L453.92 84.35 L454.11 84.4 L454.3 84.44 L454.49 84.49 L454.68 84.54 L454.88 84.58 L455.07 84.63 L455.26 84.68 L455.45 84.72 L455.64 84.77 L455.83 84.81 L456.02 84.86 L456.21 84.9 L456.4 84.95 L456.59 84.99 L456.79 85.03 L456.98 85.08 L457.17 85.12 L457.36 85.17 L457.55 85.21 L457.74 85.25 L457.93 85.29 L458.12 85.34 L458.31 85.38 L458.5 85.42 L458.69 85.46 L458.89 85.5 L459.08 85.55 L459.27 85.59 L459.46 85.63 L459.65 85.67 L459.84 85.71 L460.03 85.75 L460.22 85.79 L460.41 85.83 L460.61 85.87 L460.8 85.91 L460.99 85.95 L461.18 85.99 L461.37 86.03 L461.56 86.07 L461.75 86.11 L461.94 86.15 L462.13 86.18 L462.32 86.22 L462.51 86.26 L462.71 86.3 L462.9 86.34 L463.09 86.37 L463.28 86.41 L463.47 86.45 L463.66 86.49 L463.85 86.52 L464.04 86.56 L464.23 86.6 L464.43 86.63 L464.62 86.67 L464.81 86.7 L465 86.74 L465.19 86.78 L465.38 86.81 L465.57 86.85 L465.76 86.88 L465.95 86.92 L466.14 86.95 L466.34 86.99 L466.53 87.02 L466.72 87.06 L466.91 87.09 L467.1 87.12 L467.29 87.16 L467.48 87.19 L467.67 87.23 L467.86 87.26 L468.05 87.29 L468.25 87.33 L468.44 87.36 L468.63 87.39 L468.82 87.43 L469.01 87.46 L469.2 87.49 L469.39 87.52 L469.58 87.56 L469.77 87.59 L469.96 87.62 L470.16 87.65 L470.35 87.68 L470.54 87.71 L470.73 87.75 L470.92 87.78 L471.11 87.81 L471.3 87.84 L471.49 87.87 L471.68 87.9 L471.87 87.93 L472.06 87.96 L472.26 87.99 L472.45 88.02 L472.64 88.05 L472.83 88.08 L473.02 88.11 L473.21 88.14 L473.4 88.17 L473.59 88.2 L473.78 88.23 L473.98 88.26 L474.17 88.29 L474.36 88.32 L474.55 88.35 L474.74 88.38 L474.93 88.41 L475.12 88.43 L475.31 88.46 L475.5 88.49 L475.69 88.52 L475.88 88.55 L476.08 88.58 L476.27 88.6 L476.46 88.63 L476.65 88.66 L476.84 88.69 L477.03 88.71 L477.22 88.74 L477.41 88.77 L477.6 88.8 L477.8 88.82 L477.99 88.85 L478.18 88.88 L478.37 88.9 L478.56 88.93 L478.75 88.96 L478.94 88.98 L479.13 89.01 L479.32 89.03 L479.51 89.06 L479.71 89.09 L479.9 89.11 L480.09 89.14 L480.28 89.16 L480.47 89.19 L480.66 89.21 L480.85 89.24 L481.04 89.27 L481.23 89.29 L481.42 89.32 L481.62 89.34 L481.81 89.37 L482 89.39 L482.19 89.41 L482.38 89.44 L482.57 89.46 L482.76 89.49 L482.95 89.51 L483.14 89.54 L483.33 89.56 L483.53 89.58 L483.72 89.61 L483.91 89.63 L484.1 89.66 L484.29 89.68 L484.48 89.7 L484.67 89.73 L484.86 89.75 L485.05 89.77 L485.24 89.8 L485.44 89.82 L485.63 89.84 L485.82 89.87 L486.01 89.89 L486.2 89.91 L486.39 89.93 L486.58 89.96 L486.77 89.98 L486.96 90 L487.15 90.02 L487.35 90.05 L487.54 90.07 L487.73 90.09 L487.92 90.11 L488.11 90.13 L488.3 90.16 L488.49 90.18 L488.68 90.2 L488.87 90.22 L489.06 90.24 L489.25 90.27 L489.45 90.29 L489.64 90.31 L489.83 90.33 L490.02 90.35 L490.21 90.37 L490.4 90.39 L490.59 90.41 L490.78 90.43 L490.97 90.46 L491.17 90.48 L491.36 90.5 L491.55 90.52 L491.74 90.54 L491.93 90.56 L492.12 90.58 L492.31 90.6 L492.5 90.62 L492.69 90.64 L492.88 90.66 L493.08 90.68 L493.27 90.7 L493.46 90.72 L493.65 90.74 L493.84 90.76 L494.03 90.78 L494.22 90.8 L494.41 90.82 L494.6 90.84 L494.79 90.86 L494.99 90.88 L495.18 90.89 L495.37 90.91 L495.56 90.93 L495.75 90.95 L495.94 90.97 L496.13 90.99 L496.32 91.01 L496.51 91.03 L496.7 91.05 L496.89 91.07 L497.09 91.08 L497.28 91.1 L497.47 91.12 L497.66 91.14 L497.85 91.16 L498.04 91.18 L498.23 91.19 L498.42 91.21 L498.61 91.23 L498.81 91.25 L499 91.27 L499.19 91.28 L499.38 91.3 L499.57 91.32 L499.76 91.34 L499.95 91.36 L500.14 91.37 L500.33 91.39 L500.52 91.41 L500.72 91.43 L500.91 91.44 L501.1 91.46 L501.29 91.48 L501.48 91.5 L501.67 91.51 L501.86 91.53 L502.05 91.55 L502.24 91.56 L502.43 91.58 L502.62 91.6 L502.82 91.61 L503.01 91.63 L503.2 91.65 L503.39 91.67 L503.58 91.68 L503.77 91.7 L503.96 91.71 L504.15 91.73 L504.34 91.75 L504.54 91.76 L504.73 91.78 L504.92 91.8 L505.11 91.81 L505.3 91.83 L505.49 91.85 L505.68 91.86 L505.87 91.88 L506.06 91.89 L506.25 91.91 L506.44 91.93 L506.64 91.94 L506.83 91.96 L507.02 91.97 L507.21 91.99 L507.4 92" stroke="#f5a623" fill="none" stroke-width="1.1" />
<line x1="396.62" y1="29.95" x2="396.62" y2="32.95" stroke="#a07020" stroke-width="0.7" />
<line x1="395.22" y1="29.95" x2="398.02" y2="29.95" stroke="#a07020" stroke-width="0.7" />
<line x1="395.22" y1="32.95" x2="398.02" y2="32.95" stroke="#a07020" stroke-width="0.7" />
<rect x="395.02" y="29.85" width="3.2" height="3.2" fill="#e8951a" />
<line x1="402.35" y1="41.2" x2="402.35" y2="44.2" stroke="#a07020" stroke-width="0.7" />
<line x1="400.95" y1="41.2" x2="403.75" y2="41.2" stroke="#a07020" stroke-width="0.7" />
<line x1="400.95" y1="44.2" x2="403.75" y2="44.2" stroke="#a07020" stroke-width="0.7" />
<rect x="400.75" y="41.1" width="3.2" height="3.2" fill="#e8951a" />
<line x1="411.9" y1="59.58" x2="411.9" y2="63.33" stroke="#a07020" stroke-width="0.7" />
<line x1="410.5" y1="59.58" x2="413.3" y2="59.58" stroke="#a07020" stroke-width="0.7" />
<line x1="410.5" y1="63.33" x2="413.3" y2="63.33" stroke="#a07020" stroke-width="0.7" />
<rect x="410.3" y="59.85" width="3.2" height="3.2" fill="#e8951a" />
<line x1="431" y1="72.7" x2="431" y2="78.7" stroke="#a07020" stroke-width="0.7" />
<line x1="429.6" y1="72.7" x2="432.4" y2="72.7" stroke="#a07020" stroke-width="0.7" />
<line x1="429.6" y1="78.7" x2="432.4" y2="78.7" stroke="#a07020" stroke-width="0.7" />
<rect x="429.4" y="74.1" width="3.2" height="3.2" fill="#e8951a" />
<line x1="469.2" y1="84.33" x2="469.2" y2="88.83" stroke="#a07020" stroke-width="0.7" />
<line x1="467.8" y1="84.33" x2="470.6" y2="84.33" stroke="#a07020" stroke-width="0.7" />
<line x1="467.8" y1="88.83" x2="470.6" y2="88.83" stroke="#a07020" stroke-width="0.7" />
<rect x="467.6" y="84.98" width="3.2" height="3.2" fill="#e8951a" />
<line x1="507.4" y1="89.2" x2="507.4" y2="92.95" stroke="#a07020" stroke-width="0.7" />
<line x1="506" y1="89.2" x2="508.8" y2="89.2" stroke="#a07020" stroke-width="0.7" />
<line x1="506" y1="92.95" x2="508.8" y2="92.95" stroke="#a07020" stroke-width="0.7" />
<rect x="505.8" y="89.48" width="3.2" height="3.2" fill="#e8951a" />
<path d="M392.8 26.2 L392.9 26.2 L392.99 26.2 L393.09 26.2 L393.18 26.2 L393.28 26.2 L393.37 26.2 L393.47 26.2 L393.56 26.2 L393.66 26.2 L393.75 26.2 L393.85 26.21 L393.95 26.21 L394.04 26.21 L394.14 26.22 L394.23 26.22 L394.33 26.23 L394.42 26.23 L394.52 26.24 L394.61 26.25 L394.71 26.26 L394.81 26.27 L394.9 26.29 L395 26.31 L395.09 26.32 L395.19 26.34 L395.28 26.37 L395.38 26.39 L395.47 26.42 L395.57 26.46 L395.67 26.49 L395.76 26.53 L395.86 26.57 L395.95 26.62 L396.05 26.67 L396.14 26.72 L396.24 26.78 L396.33 26.85 L396.43 26.92 L396.52 26.99 L396.62 27.07 L396.72 27.16 L396.81 27.25 L396.91 27.35 L397 27.45 L397.1 27.56 L397.19 27.68 L397.29 27.8 L397.38 27.94 L397.48 28.08 L397.57 28.22 L397.67 28.38 L397.77 28.54 L397.86 28.71 L397.96 28.89 L398.05 29.08 L398.15 29.28 L398.24 29.49 L398.34 29.7 L398.43 29.93 L398.53 30.17 L398.63 30.41 L398.72 30.67 L398.82 30.93 L398.91 31.21 L399.01 31.49 L399.1 31.79 L399.2 32.09 L399.29 32.41 L399.39 32.74 L399.49 33.07 L399.58 33.42 L399.68 33.78 L399.77 34.15 L399.87 34.53 L399.96 34.92 L400.06 35.32 L400.15 35.73 L400.25 36.15 L400.34 36.58 L400.44 37.02 L400.54 37.46 L400.63 37.92 L400.73 38.39 L400.82 38.87 L400.92 39.35 L401.01 39.85 L401.11 40.35 L401.2 40.86 L401.3 41.38 L401.4 41.91 L401.49 42.44 L401.59 42.98 L401.68 43.53 L401.78 44.08 L401.87 44.64 L401.97 45.2 L402.06 45.77 L402.16 46.35 L402.25 46.93 L402.35 47.51 L402.45 48.1 L402.54 48.69 L402.64 49.29 L402.73 49.88 L402.83 50.48 L402.92 51.08 L403.02 51.69 L403.11 52.29 L403.21 52.9 L403.31 53.5 L403.4 54.11 L403.5 54.72 L403.59 55.32 L403.69 55.93 L403.78 56.53 L403.88 57.13 L403.97 57.73 L404.07 58.33 L404.16 58.93 L404.26 59.52 L404.36 60.11 L404.45 60.7 L404.55 61.29 L404.64 61.87 L404.74 62.44 L404.83 63.02 L404.93 63.59 L405.02 64.15 L405.12 64.71 L405.22 65.27 L405.31 65.82 L405.41 66.36 L405.5 66.9 L405.6 67.44 L405.69 67.97 L405.79 68.49 L405.88 69.01 L405.98 69.52 L406.07 70.03 L406.17 70.53 L406.27 71.02 L406.36 71.51 L406.46 71.99 L406.55 72.47 L406.65 72.94 L406.74 73.4 L406.84 73.86 L406.93 74.31 L407.03 74.75 L407.12 75.19 L407.22 75.62 L407.32 76.05 L407.41 76.47 L407.51 76.88 L407.6 77.29 L407.7 77.69 L407.79 78.08 L407.89 78.47 L407.98 78.85 L408.08 79.23 L408.18 79.6 L408.27 79.96 L408.37 80.32 L408.46 80.67 L408.56 81.02 L408.65 81.36 L408.75 81.69 L408.84 82.02 L408.94 82.34 L409.04 82.66 L409.13 82.97 L409.23 83.28 L409.32 83.58 L409.42 83.88 L409.51 84.17 L409.61 84.46 L409.7 84.74 L409.8 85.02 L409.89 85.29 L409.99 85.55 L410.09 85.81 L410.18 86.07 L410.28 86.32 L410.37 86.57 L410.47 86.82 L410.56 87.06 L410.66 87.29 L410.75 87.52 L410.85 87.75 L410.94 87.97 L411.04 88.19 L411.14 88.4 L411.23 88.61 L411.33 88.82 L411.42 89.02 L411.52 89.22 L411.61 89.42 L411.71 89.61 L411.8 89.8 L411.9 89.98 L412 90.16 L412.09 90.34 L412.19 90.52 L412.28 90.69 L412.38 90.86 L412.47 91.02 L412.57 91.18 L412.66 91.34 L412.76 91.5 L412.86 91.65 L412.95 91.8 L413.05 91.95 L413.14 92.1 L413.24 92.24 L413.33 92.38 L413.43 92.52 L413.52 92.65 L413.62 92.79 L413.71 92.92 L413.81 93.05 L413.91 93.17 L414 93.29 L414.1 93.42 L414.19 93.53 L414.29 93.65 L414.38 93.77 L414.48 93.88 L414.57 93.99 L414.67 94.1 L414.76 94.21 L414.86 94.31 L414.96 94.41 L415.05 94.52 L415.15 94.61 L415.24 94.71 L415.34 94.81 L415.43 94.9 L415.53 95 L415.62 95.09 L415.72 95.18 L415.82 95.26 L415.91 95.35 L416.01 95.43 L416.1 95.52 L416.2 95.6 L416.29 95.68 L416.39 95.76 L416.48 95.84 L416.58 95.91 L416.68 95.99 L416.77 96.06 L416.87 96.14 L416.96 96.21 L417.06 96.28 L417.15 96.35 L417.25 96.41 L417.34 96.48 L417.44 96.55 L417.53 96.61 L417.63 96.67 L417.73 96.74 L417.82 96.8 L417.92 96.86 L418.01 96.92 L418.11 96.97 L418.2 97.03 L418.3 97.09 L418.39 97.14 L418.49 97.2 L418.59 97.25 L418.68 97.3 L418.78 97.36 L418.87 97.41 L418.97 97.46 L419.06 97.51 L419.16 97.56 L419.25 97.6 L419.35 97.65 L419.44 97.7 L419.54 97.74 L419.64 97.79 L419.73 97.83 L419.83 97.88 L419.92 97.92 L420.02 97.96 L420.11 98 L420.21 98.04 L420.3 98.08 L420.4 98.12 L420.5 98.16 L420.59 98.2 L420.69 98.24 L420.78 98.27 L420.88 98.31 L420.97 98.35 L421.07 98.38 L421.16 98.42 L421.26 98.45 L421.35 98.49 L421.45 98.52 L421.55 98.55 L421.64 98.58 L421.74 98.62 L421.83 98.65 L421.93 98.68 L422.02 98.71 L422.12 98.74 L422.21 98.77 L422.31 98.8 L422.41 98.83 L422.5 98.85 L422.6 98.88 L422.69 98.91 L422.79 98.94 L422.88 98.96 L422.98 98.99 L423.07 99.02 L423.17 99.04 L423.26 99.07 L423.36 99.09 L423.46 99.12 L423.55 99.14 L423.65 99.16 L423.74 99.19 L423.84 99.21 L423.93 99.23 L424.03 99.25 L424.12 99.28 L424.22 99.3 L424.31 99.32 L424.41 99.34 L424.51 99.36 L424.6 99.38 L424.7 99.4 L424.79 99.42 L424.89 99.44 L424.98 99.46 L425.08 99.48 L425.17 99.5 L425.27 99.52 L425.37 99.54 L425.46 99.56 L425.56 99.57 L425.65 99.59 L425.75 99.61 L425.84 99.63 L425.94 99.64 L426.03 99.66 L426.13 99.68 L426.23 99.69 L426.32 99.71 L426.42 99.72 L426.51 99.74 L426.61 99.76 L426.7 99.77 L426.8 99.79 L426.89 99.8 L426.99 99.82 L427.08 99.83 L427.18 99.84 L427.28 99.86 L427.37 99.87 L427.47 99.89 L427.56 99.9 L427.66 99.91 L427.75 99.93 L427.85 99.94 L427.94 99.95 L428.04 99.96 L428.13 99.98 L428.23 99.99 L428.33 100 L428.42 100.01 L428.52 100.03 L428.61 100.04 L428.71 100.05 L428.8 100.06 L428.9 100.07 L428.99 100.08 L429.09 100.09 L429.19 100.11 L429.28 100.12 L429.38 100.13 L429.47 100.14 L429.57 100.15 L429.66 100.16 L429.76 100.17 L429.85 100.18 L429.95 100.19 L430.05 100.2 L430.14 100.21 L430.24 100.22 L430.33 100.23 L430.43 100.24 L430.52 100.25 L430.62 100.25 L430.71 100.26 L430.81 100.27 L430.9 100.28 L431 100.29 L431.1 100.3 L431.19 100.31 L431.29 100.32 L431.38 100.32 L431.48 100.33 L431.57 100.34 L431.67 100.35 L431.76 100.36 L431.86 100.36 L431.96 100.37 L432.05 100.38 L432.15 100.39 L432.24 100.39 L432.34 100.4 L432.43 100.41 L432.53 100.42 L432.62 100.42 L432.72 100.43 L432.81 100.44 L432.91 100.44" stroke="#c8103a" fill="none" stroke-width="1.2" />
<circle cx="394.71" cy="28.45" r="1.9" fill="#a00d2c"/>
<circle cx="396.62" cy="29.95" r="1.9" fill="#a00d2c"/>
<circle cx="402.35" cy="44.95" r="1.9" fill="#a00d2c"/>
<circle cx="406.17" cy="70.45" r="1.9" fill="#a00d2c"/>
<circle cx="411.9" cy="89.95" r="1.9" fill="#a00d2c"/>
<circle cx="421.45" cy="95.28" r="1.9" fill="#a00d2c"/>
<circle cx="431" cy="98.8" r="1.9" fill="#a00d2c"/>
<rect x="391.2" y="24.6" width="3.2" height="3.2" fill="#d0402a" />
<line x1="394" y1="14.2" x2="403.6" y2="14.2" stroke="#c8103a" stroke-width="1.1" />
<circle cx="398.8" cy="14.2" r="1.8" fill="#a00d2c"/>
<text x="407" y="16.4" font-size="6.2" stroke="#333" stroke-width="0.1" textLength="21" lengthAdjust="spacingAndGlyphs">MOLP8</text>
<line x1="434.3" y1="14.2" x2="443.8" y2="14.2" stroke="#f5a623" stroke-width="1.1" />
<rect x="437.5" y="12.7" width="3" height="3" fill="#e8951a" />
<text x="446.8" y="16.4" font-size="6.2" stroke="#333" stroke-width="0.1" textLength="15.2" lengthAdjust="spacingAndGlyphs">U266</text>
<line x1="468" y1="14.2" x2="477.6" y2="14.2" stroke="#3f5a40" stroke-width="1.1" />
<path d="M472.8 12.76 L474.24 15.28 L471.36 15.28 Z" stroke="none" fill="#4a9a4a" stroke-width="1" />
<text x="480.7" y="16.4" font-size="6.2" stroke="#333" stroke-width="0.1" textLength="29.3" lengthAdjust="spacingAndGlyphs">HD PBMC</text>
<line x1="392.8" y1="25.7" x2="392.8" y2="101.8" stroke="#262626" stroke-width="1.2" />
<line x1="390.6" y1="101.2" x2="392.8" y2="101.2" stroke="#262626" stroke-width="0.9" />
<text x="387.2" y="103.35" font-size="6" stroke="#333" stroke-width="0.1" text-anchor="end">0</text>
<line x1="390.6" y1="82.45" x2="392.8" y2="82.45" stroke="#262626" stroke-width="0.9" />
<text x="387.2" y="84.6" font-size="6" stroke="#333" stroke-width="0.1" text-anchor="end">25</text>
<line x1="390.6" y1="63.7" x2="392.8" y2="63.7" stroke="#262626" stroke-width="0.9" />
<text x="387.2" y="65.85" font-size="6" stroke="#333" stroke-width="0.1" text-anchor="end">50</text>
<line x1="390.6" y1="44.95" x2="392.8" y2="44.95" stroke="#262626" stroke-width="0.9" />
<text x="387.2" y="47.1" font-size="6" stroke="#333" stroke-width="0.1" text-anchor="end">75</text>
<line x1="390.6" y1="26.2" x2="392.8" y2="26.2" stroke="#262626" stroke-width="0.9" />
<text x="387.2" y="28.35" font-size="6" stroke="#333" stroke-width="0.1" text-anchor="end">100</text>
<text x="369.2" y="63.6" font-size="7.4" stroke="#222" stroke-width="0.25" text-anchor="middle" fill="#222" textLength="38" lengthAdjust="spacingAndGlyphs" transform="rotate(-90 369.2 63.6)" dy="2.4">Percent viability</text>
<line x1="392.2" y1="101.2" x2="511.3" y2="101.2" stroke="#262626" stroke-width="1.2" />
<line x1="392.8" y1="101.2" x2="392.8" y2="103.4" stroke="#262626" stroke-width="0.9" />
<text x="392.8" y="112.4" font-size="6" stroke="#333" stroke-width="0.1" text-anchor="middle">0</text>
<line x1="411.9" y1="101.2" x2="411.9" y2="103.4" stroke="#262626" stroke-width="0.9" />
<text x="411.9" y="112.4" font-size="6" stroke="#333" stroke-width="0.1" text-anchor="middle">50</text>
<line x1="431" y1="101.2" x2="431" y2="103.4" stroke="#262626" stroke-width="0.9" />
<text x="431" y="112.4" font-size="6" stroke="#333" stroke-width="0.1" text-anchor="middle">100</text>
<line x1="450.1" y1="101.2" x2="450.1" y2="103.4" stroke="#262626" stroke-width="0.9" />
<text x="450.1" y="112.4" font-size="6" stroke="#333" stroke-width="0.1" text-anchor="middle">150</text>
<line x1="469.2" y1="101.2" x2="469.2" y2="103.4" stroke="#262626" stroke-width="0.9" />
<text x="469.2" y="112.4" font-size="6" stroke="#333" stroke-width="0.1" text-anchor="middle">200</text>
<line x1="488.3" y1="101.2" x2="488.3" y2="103.4" stroke="#262626" stroke-width="0.9" />
<text x="488.3" y="112.4" font-size="6" stroke="#333" stroke-width="0.1" text-anchor="middle">250</text>
<line x1="507.4" y1="101.2" x2="507.4" y2="103.4" stroke="#262626" stroke-width="0.9" />
<text x="507.4" y="112.4" font-size="6" stroke="#333" stroke-width="0.1" text-anchor="middle">300</text>
<text x="421" y="123.6" font-size="7.9" stroke="#222" stroke-width="0.25" fill="#222" textLength="61.7" lengthAdjust="spacingAndGlyphs">THZ1 concentration (nM)</text>
<text x="80" y="149.8" font-size="10.7" stroke="#111" stroke-width="0.1" fill="#111" font-weight="bold" stroke="#111" stroke-width="0.35">D</text>
<text x="168.05" y="150" font-size="8.8" stroke="#222" stroke-width="0.15" text-anchor="middle" fill="#222" textLength="22.3" lengthAdjust="spacingAndGlyphs">U266</text>
<text x="168.05" y="161.5" font-size="7.9" stroke="#222" stroke-width="0.12" text-anchor="middle" fill="#222" textLength="60.5" lengthAdjust="spacingAndGlyphs">ABT-199 &amp; THZ1</text>
<text x="168.05" y="174" font-size="7.6" stroke="#222" stroke-width="0.12" text-anchor="middle" fill="#222" textLength="112" lengthAdjust="spacingAndGlyphs">Dose-response matrix (inhibition)</text>
<rect x="119.8" y="181.5" width="19.6" height="26.3" fill="#5563b5" />
<rect x="139.1" y="181.5" width="19.6" height="26.3" fill="#4053a7" />
<rect x="158.4" y="181.5" width="19.6" height="26.3" fill="#4053a8" />
<rect x="177.7" y="181.5" width="19.6" height="26.3" fill="#4053a7" />
<rect x="197" y="181.5" width="19.6" height="26.3" fill="#3f52a7" />
<rect x="119.8" y="207.5" width="19.6" height="26.3" fill="#7178c3" />
<rect x="139.1" y="207.5" width="19.6" height="26.3" fill="#4959ad" />
<rect x="158.4" y="207.5" width="19.6" height="26.3" fill="#495aad" />
<rect x="177.7" y="207.5" width="19.6" height="26.3" fill="#4a5aae" />
<rect x="197" y="207.5" width="19.6" height="26.3" fill="#4859ac" />
<rect x="119.8" y="233.5" width="19.6" height="26.3" fill="#9798d2" />
<rect x="139.1" y="233.5" width="19.6" height="26.3" fill="#636dbd" />
<rect x="158.4" y="233.5" width="19.6" height="26.3" fill="#5e6aba" />
<rect x="177.7" y="233.5" width="19.6" height="26.3" fill="#5b67b8" />
<rect x="197" y="233.5" width="19.6" height="26.3" fill="#5b67b8" />
<rect x="119.8" y="259.5" width="19.6" height="26.3" fill="#cfd0ea" />
<rect x="139.1" y="259.5" width="19.6" height="26.3" fill="#8085c9" />
<rect x="158.4" y="259.5" width="19.6" height="26.3" fill="#787ec6" />
<rect x="177.7" y="259.5" width="19.6" height="26.3" fill="#757cc5" />
<rect x="197" y="259.5" width="19.6" height="26.3" fill="#787ec6" />
<rect x="119.8" y="285.5" width="19.6" height="26.3" fill="#ffffff" />
<rect x="139.1" y="285.5" width="19.6" height="26.3" fill="#ffffff" />
<rect x="158.4" y="285.5" width="19.6" height="26.3" fill="#ffffff" />
<rect x="177.7" y="285.5" width="19.6" height="26.3" fill="#ffffff" />
<rect x="197" y="285.5" width="19.6" height="26.3" fill="#fdfdfe" />
<text x="129.45" y="196.1" font-size="6.1" stroke="#f4f4fa" stroke-width="0.05" text-anchor="middle" fill="#f4f4fa">77.38</text>
<text x="148.75" y="196.1" font-size="6.1" stroke="#f4f4fa" stroke-width="0.05" text-anchor="middle" fill="#f4f4fa">89.92</text>
<text x="168.05" y="196.1" font-size="6.1" stroke="#f4f4fa" stroke-width="0.05" text-anchor="middle" fill="#f4f4fa">89.63</text>
<text x="187.35" y="196.1" font-size="6.1" stroke="#f4f4fa" stroke-width="0.05" text-anchor="middle" fill="#f4f4fa">89.88</text>
<text x="206.65" y="196.1" font-size="6.1" stroke="#f4f4fa" stroke-width="0.05" text-anchor="middle" fill="#f4f4fa">90.18</text>
<text x="129.45" y="222.1" font-size="6.1" stroke="#f4f4fa" stroke-width="0.05" text-anchor="middle" fill="#f4f4fa">63.32</text>
<text x="148.75" y="222.1" font-size="6.1" stroke="#f4f4fa" stroke-width="0.05" text-anchor="middle" fill="#f4f4fa">84.74</text>
<text x="168.05" y="222.1" font-size="6.1" stroke="#f4f4fa" stroke-width="0.05" text-anchor="middle" fill="#f4f4fa">84.4</text>
<text x="187.35" y="222.1" font-size="6.1" stroke="#f4f4fa" stroke-width="0.05" text-anchor="middle" fill="#f4f4fa">84</text>
<text x="206.65" y="222.1" font-size="6.1" stroke="#f4f4fa" stroke-width="0.05" text-anchor="middle" fill="#f4f4fa">85.25</text>
<text x="129.45" y="248.1" font-size="6.1" stroke="#f4f4fa" stroke-width="0.05" text-anchor="middle" fill="#f4f4fa">46.25</text>
<text x="148.75" y="248.1" font-size="6.1" stroke="#f4f4fa" stroke-width="0.05" text-anchor="middle" fill="#f4f4fa">69.7</text>
<text x="168.05" y="248.1" font-size="6.1" stroke="#f4f4fa" stroke-width="0.05" text-anchor="middle" fill="#f4f4fa">72.42</text>
<text x="187.35" y="248.1" font-size="6.1" stroke="#f4f4fa" stroke-width="0.05" text-anchor="middle" fill="#f4f4fa">74.41</text>
<text x="206.65" y="248.1" font-size="6.1" stroke="#f4f4fa" stroke-width="0.05" text-anchor="middle" fill="#f4f4fa">74.39</text>
<text x="129.45" y="274.1" font-size="6.1" stroke="#222" stroke-width="0.05" text-anchor="middle" fill="#222">25.78</text>
<text x="148.75" y="274.1" font-size="6.1" stroke="#f4f4fa" stroke-width="0.05" text-anchor="middle" fill="#f4f4fa">56.64</text>
<text x="168.05" y="274.1" font-size="6.1" stroke="#f4f4fa" stroke-width="0.05" text-anchor="middle" fill="#f4f4fa">60</text>
<text x="187.35" y="274.1" font-size="6.1" stroke="#f4f4fa" stroke-width="0.05" text-anchor="middle" fill="#f4f4fa">61.39</text>
<text x="206.65" y="274.1" font-size="6.1" stroke="#f4f4fa" stroke-width="0.05" text-anchor="middle" fill="#f4f4fa">60.25</text>
<text x="129.45" y="300.1" font-size="6.1" stroke="#222" stroke-width="0.05" text-anchor="middle" fill="#222">0</text>
<text x="148.75" y="300.1" font-size="6.1" stroke="#222" stroke-width="0.05" text-anchor="middle" fill="#222">−0.99</text>
<text x="168.05" y="300.1" font-size="6.1" stroke="#222" stroke-width="0.05" text-anchor="middle" fill="#222">−1.47</text>
<text x="187.35" y="300.1" font-size="6.1" stroke="#222" stroke-width="0.05" text-anchor="middle" fill="#222">0.25</text>
<text x="206.65" y="300.1" font-size="6.1" stroke="#222" stroke-width="0.05" text-anchor="middle" fill="#222">1.33</text>
<line x1="117.8" y1="178.6" x2="117.8" y2="315.1" stroke="#262626" stroke-width="1.1" />
<line x1="117.3" y1="314.6" x2="218.3" y2="314.6" stroke="#262626" stroke-width="1.1" />
<line x1="115.6" y1="194.5" x2="117.8" y2="194.5" stroke="#262626" stroke-width="0.9" />
<text x="112" y="196.65" font-size="6" stroke="#333" stroke-width="0.1" text-anchor="end">0.2</text>
<line x1="115.6" y1="220.5" x2="117.8" y2="220.5" stroke="#262626" stroke-width="0.9" />
<text x="112" y="222.65" font-size="6" stroke="#333" stroke-width="0.1" text-anchor="end">0.1</text>
<line x1="115.6" y1="246.5" x2="117.8" y2="246.5" stroke="#262626" stroke-width="0.9" />
<text x="112" y="248.65" font-size="6" stroke="#333" stroke-width="0.1" text-anchor="end">0.05</text>
<line x1="115.6" y1="272.5" x2="117.8" y2="272.5" stroke="#262626" stroke-width="0.9" />
<text x="112" y="274.65" font-size="6" stroke="#333" stroke-width="0.1" text-anchor="end">0.02</text>
<line x1="115.6" y1="298.5" x2="117.8" y2="298.5" stroke="#262626" stroke-width="0.9" />
<text x="112" y="300.65" font-size="6" stroke="#333" stroke-width="0.1" text-anchor="end">0</text>
<line x1="129.45" y1="314.6" x2="129.45" y2="317" stroke="#262626" stroke-width="0.9" />
<text x="129.45" y="326" font-size="6" stroke="#333" stroke-width="0.1" text-anchor="middle">0</text>
<line x1="148.75" y1="314.6" x2="148.75" y2="317" stroke="#262626" stroke-width="0.9" />
<text x="148.75" y="326" font-size="6" stroke="#333" stroke-width="0.1" text-anchor="middle">0.5</text>
<line x1="168.05" y1="314.6" x2="168.05" y2="317" stroke="#262626" stroke-width="0.9" />
<text x="168.05" y="326" font-size="6" stroke="#333" stroke-width="0.1" text-anchor="middle">1</text>
<line x1="187.35" y1="314.6" x2="187.35" y2="317" stroke="#262626" stroke-width="0.9" />
<text x="187.35" y="326" font-size="6" stroke="#333" stroke-width="0.1" text-anchor="middle">1.5</text>
<line x1="206.65" y1="314.6" x2="206.65" y2="317" stroke="#262626" stroke-width="0.9" />
<text x="206.65" y="326" font-size="6" stroke="#333" stroke-width="0.1" text-anchor="middle">2</text>
<text x="167.55" y="337.6" font-size="7.3" stroke="#222" stroke-width="0.25" text-anchor="middle" fill="#222" textLength="34.6" lengthAdjust="spacingAndGlyphs">ABT-199 (uM)</text>
<text x="92" y="247" font-size="6.7" stroke="#222" stroke-width="0.25" text-anchor="middle" fill="#222" textLength="26.5" lengthAdjust="spacingAndGlyphs" transform="rotate(-90 92 247)" dy="2.3">THZ1 (uM)</text>
<defs><linearGradient id="cbU266" x1="0" y1="1" x2="0" y2="0"><stop offset="0" stop-color="#ffffff"/><stop offset="0.28" stop-color="#cfd0ea"/><stop offset="0.5" stop-color="#9898d2"/><stop offset="0.75" stop-color="#646ebe"/><stop offset="1" stop-color="#3c50a5"/></linearGradient></defs>
<rect x="221.5" y="230" width="8.8" height="40.4" fill="url(#cbU266)" />
<text x="221.5" y="225.8" font-size="5.8" stroke="#333" stroke-width="0.1" textLength="33.4" lengthAdjust="spacingAndGlyphs">inhibition (%)</text>
<text x="233.7" y="272.5" font-size="5.8" stroke="#333" stroke-width="0.1">0</text>
<text x="233.7" y="261.52" font-size="5.8" stroke="#333" stroke-width="0.1">25</text>
<text x="233.7" y="250.54" font-size="5.8" stroke="#333" stroke-width="0.1">50</text>
<text x="233.7" y="239.57" font-size="5.8" stroke="#333" stroke-width="0.1">75</text>
<text x="349.95" y="150" font-size="8.8" stroke="#222" stroke-width="0.15" text-anchor="middle" fill="#222" textLength="30.8" lengthAdjust="spacingAndGlyphs">MOLP8</text>
<text x="349.95" y="161.5" font-size="7.9" stroke="#222" stroke-width="0.12" text-anchor="middle" fill="#222" textLength="60.5" lengthAdjust="spacingAndGlyphs">ABT-199 &amp; THZ1</text>
<text x="349.95" y="174" font-size="7.6" stroke="#222" stroke-width="0.12" text-anchor="middle" fill="#222" textLength="112" lengthAdjust="spacingAndGlyphs">Dose-response matrix (inhibition)</text>
<rect x="301.7" y="181.5" width="19.6" height="26.3" fill="#7761b1" />
<rect x="321" y="181.5" width="19.6" height="26.3" fill="#412490" />
<rect x="340.3" y="181.5" width="19.6" height="26.3" fill="#40238f" />
<rect x="359.6" y="181.5" width="19.6" height="26.3" fill="#40238f" />
<rect x="378.9" y="181.5" width="19.6" height="26.3" fill="#3d1f8d" />
<rect x="301.7" y="207.5" width="19.6" height="26.3" fill="#7d68b5" />
<rect x="321" y="207.5" width="19.6" height="26.3" fill="#4b3098" />
<rect x="340.3" y="207.5" width="19.6" height="26.3" fill="#4b3099" />
<rect x="359.6" y="207.5" width="19.6" height="26.3" fill="#4a2f98" />
<rect x="378.9" y="207.5" width="19.6" height="26.3" fill="#472c96" />
<rect x="301.7" y="233.5" width="19.6" height="26.3" fill="#cfc6e6" />
<rect x="321" y="233.5" width="19.6" height="26.3" fill="#715bae" />
<rect x="340.3" y="233.5" width="19.6" height="26.3" fill="#6d56ac" />
<rect x="359.6" y="233.5" width="19.6" height="26.3" fill="#5e46a3" />
<rect x="378.9" y="233.5" width="19.6" height="26.3" fill="#543b9e" />
<rect x="301.7" y="259.5" width="19.6" height="26.3" fill="#f6f4fa" />
<rect x="321" y="259.5" width="19.6" height="26.3" fill="#e1dbef" />
<rect x="340.3" y="259.5" width="19.6" height="26.3" fill="#dbd4ec" />
<rect x="359.6" y="259.5" width="19.6" height="26.3" fill="#e5e0f1" />
<rect x="378.9" y="259.5" width="19.6" height="26.3" fill="#ded8ee" />
<rect x="301.7" y="285.5" width="19.6" height="26.3" fill="#ffffff" />
<rect x="321" y="285.5" width="19.6" height="26.3" fill="#fcfbfd" />
<rect x="340.3" y="285.5" width="19.6" height="26.3" fill="#ffffff" />
<rect x="359.6" y="285.5" width="19.6" height="26.3" fill="#ffffff" />
<rect x="378.9" y="285.5" width="19.6" height="26.3" fill="#f5f3fa" />
<text x="311.35" y="196.1" font-size="6.1" stroke="#f4f4fa" stroke-width="0.05" text-anchor="middle" fill="#f4f4fa">65.14</text>
<text x="330.65" y="196.1" font-size="6.1" stroke="#f4f4fa" stroke-width="0.05" text-anchor="middle" fill="#f4f4fa">96.42</text>
<text x="349.95" y="196.1" font-size="6.1" stroke="#f4f4fa" stroke-width="0.05" text-anchor="middle" fill="#f4f4fa">97</text>
<text x="369.25" y="196.1" font-size="6.1" stroke="#f4f4fa" stroke-width="0.05" text-anchor="middle" fill="#f4f4fa">97.11</text>
<text x="388.55" y="196.1" font-size="6.1" stroke="#f4f4fa" stroke-width="0.05" text-anchor="middle" fill="#f4f4fa">98.54</text>
<text x="311.35" y="222.1" font-size="6.1" stroke="#f4f4fa" stroke-width="0.05" text-anchor="middle" fill="#f4f4fa">61.46</text>
<text x="330.65" y="222.1" font-size="6.1" stroke="#f4f4fa" stroke-width="0.05" text-anchor="middle" fill="#f4f4fa">91.68</text>
<text x="349.95" y="222.1" font-size="6.1" stroke="#f4f4fa" stroke-width="0.05" text-anchor="middle" fill="#f4f4fa">91.27</text>
<text x="369.25" y="222.1" font-size="6.1" stroke="#f4f4fa" stroke-width="0.05" text-anchor="middle" fill="#f4f4fa">92.19</text>
<text x="388.55" y="222.1" font-size="6.1" stroke="#f4f4fa" stroke-width="0.05" text-anchor="middle" fill="#f4f4fa">93.37</text>
<text x="311.35" y="248.1" font-size="6.1" stroke="#222" stroke-width="0.05" text-anchor="middle" fill="#222">27.5</text>
<text x="330.65" y="248.1" font-size="6.1" stroke="#f4f4fa" stroke-width="0.05" text-anchor="middle" fill="#f4f4fa">68.45</text>
<text x="349.95" y="248.1" font-size="6.1" stroke="#f4f4fa" stroke-width="0.05" text-anchor="middle" fill="#f4f4fa">71.07</text>
<text x="369.25" y="248.1" font-size="6.1" stroke="#f4f4fa" stroke-width="0.05" text-anchor="middle" fill="#f4f4fa">79.9</text>
<text x="388.55" y="248.1" font-size="6.1" stroke="#f4f4fa" stroke-width="0.05" text-anchor="middle" fill="#f4f4fa">85.8</text>
<text x="311.35" y="274.1" font-size="6.1" stroke="#222" stroke-width="0.05" text-anchor="middle" fill="#222">5.25</text>
<text x="330.65" y="274.1" font-size="6.1" stroke="#222" stroke-width="0.05" text-anchor="middle" fill="#222">17.38</text>
<text x="349.95" y="274.1" font-size="6.1" stroke="#222" stroke-width="0.05" text-anchor="middle" fill="#222">20.67</text>
<text x="369.25" y="274.1" font-size="6.1" stroke="#222" stroke-width="0.05" text-anchor="middle" fill="#222">15.06</text>
<text x="388.55" y="274.1" font-size="6.1" stroke="#222" stroke-width="0.05" text-anchor="middle" fill="#222">18.95</text>
<text x="311.35" y="300.1" font-size="6.1" stroke="#222" stroke-width="0.05" text-anchor="middle" fill="#222">0</text>
<text x="330.65" y="300.1" font-size="6.1" stroke="#222" stroke-width="0.05" text-anchor="middle" fill="#222">1.75</text>
<text x="349.95" y="300.1" font-size="6.1" stroke="#222" stroke-width="0.05" text-anchor="middle" fill="#222">0.16</text>
<text x="369.25" y="300.1" font-size="6.1" stroke="#222" stroke-width="0.05" text-anchor="middle" fill="#222">0</text>
<text x="388.55" y="300.1" font-size="6.1" stroke="#222" stroke-width="0.05" text-anchor="middle" fill="#222">5.76</text>
<line x1="299.7" y1="178.6" x2="299.7" y2="315.1" stroke="#262626" stroke-width="1.1" />
<line x1="299.2" y1="314.6" x2="400.2" y2="314.6" stroke="#262626" stroke-width="1.1" />
<line x1="297.5" y1="194.5" x2="299.7" y2="194.5" stroke="#262626" stroke-width="0.9" />
<text x="293.9" y="196.65" font-size="6" stroke="#333" stroke-width="0.1" text-anchor="end">0.05</text>
<line x1="297.5" y1="220.5" x2="299.7" y2="220.5" stroke="#262626" stroke-width="0.9" />
<text x="293.9" y="222.65" font-size="6" stroke="#333" stroke-width="0.1" text-anchor="end">0.04</text>
<line x1="297.5" y1="246.5" x2="299.7" y2="246.5" stroke="#262626" stroke-width="0.9" />
<text x="293.9" y="248.65" font-size="6" stroke="#333" stroke-width="0.1" text-anchor="end">0.02</text>
<line x1="297.5" y1="272.5" x2="299.7" y2="272.5" stroke="#262626" stroke-width="0.9" />
<text x="293.9" y="274.65" font-size="6" stroke="#333" stroke-width="0.1" text-anchor="end">0.01</text>
<line x1="297.5" y1="298.5" x2="299.7" y2="298.5" stroke="#262626" stroke-width="0.9" />
<text x="293.9" y="300.65" font-size="6" stroke="#333" stroke-width="0.1" text-anchor="end">0</text>
<line x1="311.35" y1="314.6" x2="311.35" y2="317" stroke="#262626" stroke-width="0.9" />
<text x="311.35" y="326" font-size="6" stroke="#333" stroke-width="0.1" text-anchor="middle">0</text>
<line x1="330.65" y1="314.6" x2="330.65" y2="317" stroke="#262626" stroke-width="0.9" />
<text x="330.65" y="326" font-size="6" stroke="#333" stroke-width="0.1" text-anchor="middle">0.5</text>
<line x1="349.95" y1="314.6" x2="349.95" y2="317" stroke="#262626" stroke-width="0.9" />
<text x="349.95" y="326" font-size="6" stroke="#333" stroke-width="0.1" text-anchor="middle">1</text>
<line x1="369.25" y1="314.6" x2="369.25" y2="317" stroke="#262626" stroke-width="0.9" />
<text x="369.25" y="326" font-size="6" stroke="#333" stroke-width="0.1" text-anchor="middle">1.5</text>
<line x1="388.55" y1="314.6" x2="388.55" y2="317" stroke="#262626" stroke-width="0.9" />
<text x="388.55" y="326" font-size="6" stroke="#333" stroke-width="0.1" text-anchor="middle">2</text>
<text x="349.45" y="337.6" font-size="7.3" stroke="#222" stroke-width="0.25" text-anchor="middle" fill="#222" textLength="34.6" lengthAdjust="spacingAndGlyphs">ABT-199 (uM)</text>
<text x="273.9" y="247" font-size="6.7" stroke="#222" stroke-width="0.25" text-anchor="middle" fill="#222" textLength="26.5" lengthAdjust="spacingAndGlyphs" transform="rotate(-90 273.9 247)" dy="2.3">THZ1 (uM)</text>
<defs><linearGradient id="cbMOLP8" x1="0" y1="1" x2="0" y2="0"><stop offset="0" stop-color="#ffffff"/><stop offset="0.28" stop-color="#cfc6e6"/><stop offset="0.62" stop-color="#7d68b5"/><stop offset="0.93" stop-color="#4a2f98"/><stop offset="1" stop-color="#3c1e8c"/></linearGradient></defs>
<rect x="403.2" y="230" width="8.8" height="40.4" fill="url(#cbMOLP8)" />
<text x="403.2" y="225.8" font-size="5.8" stroke="#333" stroke-width="0.1" textLength="33.4" lengthAdjust="spacingAndGlyphs">inhibition (%)</text>
<text x="415.4" y="272.5" font-size="5.8" stroke="#333" stroke-width="0.1">0</text>
<text x="415.4" y="262.3" font-size="5.8" stroke="#333" stroke-width="0.1">25</text>
<text x="415.4" y="252.1" font-size="5.8" stroke="#333" stroke-width="0.1">50</text>
<text x="415.4" y="241.89" font-size="5.8" stroke="#333" stroke-width="0.1">75</text>
<text x="171.3" y="360.7" font-size="7.9" stroke="#222" stroke-width="0.1" text-anchor="middle" fill="#222" textLength="92.3" lengthAdjust="spacingAndGlyphs">ZIP synergy score: 24.047</text>
<defs><clipPath id="clipU"><rect x="115.9" y="365.5" width="111.8" height="124.5"/></clipPath>
<linearGradient id="baseU" gradientUnits="userSpaceOnUse" x1="0" y1="365.5" x2="0" y2="490"><stop offset="0" stop-color="#ec6e68"/><stop offset="0.13" stop-color="#ea625c"/><stop offset="0.28" stop-color="#e8524e"/><stop offset="0.48" stop-color="#e63e3c"/><stop offset="0.6" stop-color="#e42e2e"/><stop offset="0.76" stop-color="#e3282a"/><stop offset="0.82" stop-color="#e53a38"/><stop offset="1" stop-color="#e84a48"/></linearGradient>
<linearGradient id="lfU" gradientUnits="userSpaceOnUse" x1="115.9" y1="0" x2="227.7" y2="0"><stop offset="0" stop-color="#fff" stop-opacity="0.93"/><stop offset="0.03" stop-color="#fff" stop-opacity="0.9"/><stop offset="0.05" stop-color="#fff" stop-opacity="0.84"/><stop offset="0.08" stop-color="#fff" stop-opacity="0.74"/><stop offset="0.11" stop-color="#fff" stop-opacity="0.6"/><stop offset="0.14" stop-color="#fff" stop-opacity="0.45"/><stop offset="0.16" stop-color="#fff" stop-opacity="0.31"/><stop offset="0.19" stop-color="#fff" stop-opacity="0.19"/><stop offset="0.22" stop-color="#fff" stop-opacity="0.1"/><stop offset="0.25" stop-color="#fff" stop-opacity="0.04"/><stop offset="0.31" stop-color="#fff" stop-opacity="0"/></linearGradient>
<linearGradient id="bfU" gradientUnits="userSpaceOnUse" x1="0" y1="365.5" x2="0" y2="490"><stop offset="0.75" stop-color="#fff" stop-opacity="0"/><stop offset="0.79" stop-color="#fff" stop-opacity="0.05"/><stop offset="0.82" stop-color="#fff" stop-opacity="0.15"/><stop offset="0.86" stop-color="#fff" stop-opacity="0.3"/><stop offset="0.89" stop-color="#fff" stop-opacity="0.48"/><stop offset="0.92" stop-color="#fff" stop-opacity="0.66"/><stop offset="0.95" stop-color="#fff" stop-opacity="0.81"/><stop offset="0.98" stop-color="#fff" stop-opacity="0.89"/><stop offset="1" stop-color="#fff" stop-opacity="0.93"/></linearGradient>
<radialGradient id="pkU" gradientUnits="userSpaceOnUse" cx="205" cy="449" r="50" gradientTransform="translate(205 449) scale(1 0.26) translate(-205 -449)"><stop offset="0" stop-color="#d41016" stop-opacity="0.3"/><stop offset="0.6" stop-color="#d41016" stop-opacity="0.14"/><stop offset="1" stop-color="#d41016" stop-opacity="0"/></radialGradient>
<radialGradient id="postU0" gradientUnits="userSpaceOnUse" cx="116" cy="490" r="50" gradientTransform="translate(116 490) scale(1 0.96) translate(-116 -490)"><stop offset="0" stop-color="#ffffff" stop-opacity="0.95"/><stop offset="0.3" stop-color="#ffffff" stop-opacity="0.72"/><stop offset="0.55" stop-color="#ffffff" stop-opacity="0.38"/><stop offset="0.75" stop-color="#ffffff" stop-opacity="0.14"/><stop offset="1" stop-color="#ffffff" stop-opacity="0"/></radialGradient>
</defs>
<g clip-path="url(#clipU)">
<rect x="115.9" y="365.5" width="111.8" height="124.5" fill="url(#baseU)" />
<rect x="115.9" y="365.5" width="111.8" height="124.5" fill="url(#pkU)" />
<path d="M129.4 365 L129.4 461 C129.4 469.4 135 475 143.4 475 L228.5 475" stroke="#f6806e" fill="none" stroke-width="0.9" stroke-opacity="0.85" filter="url(#soft)"/>
<path d="M133.5 365 L133.5 457.3 C133.5 465.7 139.1 471.3 147.5 471.3 L228.5 471.3" stroke="#f6806e" fill="none" stroke-width="0.9" stroke-opacity="0.85" filter="url(#soft)"/>
<path d="M207.5 365.5 C205 370 201 372.7 192 372.7 L150 372.7 C142 372.7 137.5 376 137.5 386 L137.5 454.8 C137.5 462.6 142.7 467.8 150.5 467.8 L228.5 467.8" stroke="#f6806e" fill="none" stroke-width="0.9" stroke-opacity="0.85" filter="url(#soft)"/>
<path d="M225.3 365.5 L224.8 376 C223.5 386 217 393.4 204 393.4 L157 393.4 C148 393.4 143.8 398 143.8 408 L143.8 452.8 C143.8 459.4 148.2 463.8 154.8 463.8 L228.5 463.8" stroke="#f6806e" fill="none" stroke-width="0.9" stroke-opacity="0.85" filter="url(#soft)"/>
<path d="M228.5 416.5 L162 416.8 C154 417 150 421 150 430 L150 450 C150 457 153 461.5 162 461.5 L228.5 461.5" stroke="#f6806e" fill="none" stroke-width="0.9" stroke-opacity="0.85" filter="url(#soft)"/>
<path d="M228.5 437.8 L186 437.8 C180 437.8 176 440.7 170 440.9 C160 441.3 154.8 446 154.8 450.5 C154.8 455 160 458.8 170 459 L228.5 459.2" stroke="#f6806e" fill="none" stroke-width="0.9" stroke-opacity="0.85" filter="url(#soft)"/>
<line x1="144.6" y1="365.5" x2="144.6" y2="490" stroke="#ffffff" stroke-width="0.5" stroke-opacity="0.08"/>
<line x1="171.4" y1="365.5" x2="171.4" y2="490" stroke="#ffffff" stroke-width="0.5" stroke-opacity="0.08"/>
<line x1="198.2" y1="365.5" x2="198.2" y2="490" stroke="#ffffff" stroke-width="0.5" stroke-opacity="0.08"/>
<line x1="115.9" y1="368.7" x2="227.7" y2="368.7" stroke="#ffffff" stroke-width="0.5" stroke-opacity="0.08"/>
<line x1="115.9" y1="398.4" x2="227.7" y2="398.4" stroke="#ffffff" stroke-width="0.5" stroke-opacity="0.08"/>
<line x1="115.9" y1="429.2" x2="227.7" y2="429.2" stroke="#ffffff" stroke-width="0.5" stroke-opacity="0.08"/>
<line x1="115.9" y1="459" x2="227.7" y2="459" stroke="#ffffff" stroke-width="0.5" stroke-opacity="0.08"/>
<rect x="171.4" y="398.4" width="53.6" height="60.6" fill="none" stroke="#f49a94" stroke-width="0.6" stroke-opacity="0.7"/>
<rect x="115.9" y="365.5" width="111.8" height="124.5" fill="url(#lfU)" />
<rect x="115.9" y="365.5" width="111.8" height="124.5" fill="url(#bfU)" />
<rect x="115.9" y="365.5" width="111.8" height="124.5" fill="url(#postU0)" />
<line x1="144.6" y1="365.5" x2="144.6" y2="490" stroke="#999" stroke-width="0.45" stroke-opacity="0.16"/>
<line x1="171.4" y1="365.5" x2="171.4" y2="490" stroke="#999" stroke-width="0.45" stroke-opacity="0.16"/>
<line x1="198.2" y1="365.5" x2="198.2" y2="490" stroke="#999" stroke-width="0.45" stroke-opacity="0.16"/>
<line x1="115.9" y1="368.7" x2="227.7" y2="368.7" stroke="#999" stroke-width="0.45" stroke-opacity="0.16"/>
<line x1="115.9" y1="398.4" x2="227.7" y2="398.4" stroke="#999" stroke-width="0.45" stroke-opacity="0.16"/>
<line x1="115.9" y1="429.2" x2="227.7" y2="429.2" stroke="#999" stroke-width="0.45" stroke-opacity="0.16"/>
<line x1="115.9" y1="459" x2="227.7" y2="459" stroke="#999" stroke-width="0.45" stroke-opacity="0.16"/>
</g>
<line x1="115.3" y1="365.5" x2="115.3" y2="492.4" stroke="#262626" stroke-width="1.1" />
<line x1="114.8" y1="491.9" x2="228" y2="491.9" stroke="#262626" stroke-width="1.1" />
<line x1="113.1" y1="368.7" x2="115.3" y2="368.7" stroke="#262626" stroke-width="0.9" />
<text x="109.7" y="370.85" font-size="6" stroke="#333" stroke-width="0.1" text-anchor="end">0.2</text>
<line x1="113.1" y1="398.4" x2="115.3" y2="398.4" stroke="#262626" stroke-width="0.9" />
<text x="109.7" y="400.55" font-size="6" stroke="#333" stroke-width="0.1" text-anchor="end">0.1</text>
<line x1="113.1" y1="429.2" x2="115.3" y2="429.2" stroke="#262626" stroke-width="0.9" />
<text x="109.7" y="431.35" font-size="6" stroke="#333" stroke-width="0.1" text-anchor="end">0.05</text>
<line x1="113.1" y1="459" x2="115.3" y2="459" stroke="#262626" stroke-width="0.9" />
<text x="109.7" y="461.15" font-size="6" stroke="#333" stroke-width="0.1" text-anchor="end">0.02</text>
<line x1="113.1" y1="489.2" x2="115.3" y2="489.2" stroke="#262626" stroke-width="0.9" />
<text x="109.7" y="491.35" font-size="6" stroke="#333" stroke-width="0.1" text-anchor="end">0</text>
<line x1="117.9" y1="491.9" x2="117.9" y2="494.3" stroke="#262626" stroke-width="0.9" />
<text x="117.9" y="503.2" font-size="6" stroke="#333" stroke-width="0.1" text-anchor="middle">0</text>
<line x1="144.6" y1="491.9" x2="144.6" y2="494.3" stroke="#262626" stroke-width="0.9" />
<text x="144.6" y="503.2" font-size="6" stroke="#333" stroke-width="0.1" text-anchor="middle">0.5</text>
<line x1="171.4" y1="491.9" x2="171.4" y2="494.3" stroke="#262626" stroke-width="0.9" />
<text x="171.4" y="503.2" font-size="6" stroke="#333" stroke-width="0.1" text-anchor="middle">1</text>
<line x1="198.2" y1="491.9" x2="198.2" y2="494.3" stroke="#262626" stroke-width="0.9" />
<text x="198.2" y="503.2" font-size="6" stroke="#333" stroke-width="0.1" text-anchor="middle">1.5</text>
<line x1="225" y1="491.9" x2="225" y2="494.3" stroke="#262626" stroke-width="0.9" />
<text x="225" y="503.2" font-size="6" stroke="#333" stroke-width="0.1" text-anchor="middle">2</text>
<text x="171.45" y="514.2" font-size="7.3" stroke="#222" stroke-width="0.25" text-anchor="middle" fill="#222" textLength="34.2" lengthAdjust="spacingAndGlyphs">ABT-199 (uM)</text>
<text x="90.1" y="429.2" font-size="6.7" stroke="#222" stroke-width="0.25" text-anchor="middle" fill="#222" textLength="26.8" lengthAdjust="spacingAndGlyphs" transform="rotate(-90 90.1 429.2)" dy="2.3">THZ1 (uM)</text>
<defs><linearGradient id="zcbU" x1="0" y1="0" x2="0" y2="1"><stop offset="0" stop-color="#d7191c"/><stop offset="0.25" stop-color="#ea6a6c"/><stop offset="0.47" stop-color="#fbeaea"/><stop offset="0.53" stop-color="#eef7ee"/><stop offset="0.75" stop-color="#7cc27c"/><stop offset="1" stop-color="#3a9a3a"/></linearGradient></defs>
<rect x="231" y="416.8" width="6.8" height="32" fill="url(#zcbU)" />
<text x="231" y="411.6" font-size="6" stroke="#333" stroke-width="0.1" textLength="24.3" lengthAdjust="spacingAndGlyphs">δ − score</text>
<text x="239.6" y="419.9" font-size="5.9" stroke="#333" stroke-width="0.1">40</text>
<text x="239.6" y="427.5" font-size="5.9" stroke="#333" stroke-width="0.1">20</text>
<text x="239.6" y="435.1" font-size="5.9" stroke="#333" stroke-width="0.1">0</text>
<text x="239.6" y="442.7" font-size="5.9" stroke="#333" stroke-width="0.1">−20</text>
<text x="239.6" y="450.3" font-size="5.9" stroke="#333" stroke-width="0.1">−40</text>
<text x="355.05" y="360.7" font-size="7.9" stroke="#222" stroke-width="0.1" text-anchor="middle" fill="#222" textLength="83" lengthAdjust="spacingAndGlyphs">ZIP synergy score: 25.89</text>
<defs><clipPath id="clipM"><rect x="300.2" y="365.5" width="110.7" height="124.5"/></clipPath>
<linearGradient id="baseM" gradientUnits="userSpaceOnUse" x1="0" y1="365.5" x2="0" y2="490"><stop offset="0" stop-color="#f09590"/><stop offset="0.12" stop-color="#ee8480"/><stop offset="0.24" stop-color="#ec6a64"/><stop offset="0.36" stop-color="#e9504c"/><stop offset="0.45" stop-color="#e63a3a"/><stop offset="0.53" stop-color="#e63a3a"/><stop offset="0.64" stop-color="#e84c48"/><stop offset="1" stop-color="#ea5a56"/></linearGradient>
<linearGradient id="lfM" gradientUnits="userSpaceOnUse" x1="300.2" y1="0" x2="410.9" y2="0"><stop offset="-0" stop-color="#fff" stop-opacity="1"/><stop offset="0.04" stop-color="#fff" stop-opacity="0.95"/><stop offset="0.08" stop-color="#fff" stop-opacity="0.82"/><stop offset="0.12" stop-color="#fff" stop-opacity="0.63"/><stop offset="0.15" stop-color="#fff" stop-opacity="0.43"/><stop offset="0.19" stop-color="#fff" stop-opacity="0.25"/><stop offset="0.22" stop-color="#fff" stop-opacity="0.11"/><stop offset="0.27" stop-color="#fff" stop-opacity="0.03"/><stop offset="0.32" stop-color="#fff" stop-opacity="0"/></linearGradient>
<linearGradient id="bfM" gradientUnits="userSpaceOnUse" x1="0" y1="365.5" x2="0" y2="490"><stop offset="0.6" stop-color="#fff" stop-opacity="0"/><stop offset="0.65" stop-color="#fff" stop-opacity="0.08"/><stop offset="0.69" stop-color="#fff" stop-opacity="0.22"/><stop offset="0.74" stop-color="#fff" stop-opacity="0.42"/><stop offset="0.79" stop-color="#fff" stop-opacity="0.62"/><stop offset="0.84" stop-color="#fff" stop-opacity="0.77"/><stop offset="0.89" stop-color="#fff" stop-opacity="0.85"/><stop offset="0.94" stop-color="#fff" stop-opacity="0.89"/><stop offset="1" stop-color="#fff" stop-opacity="0.91"/></linearGradient>
<radialGradient id="pkM" gradientUnits="userSpaceOnUse" cx="402" cy="422" r="48" gradientTransform="translate(402 422) scale(1 0.27) translate(-402 -422)"><stop offset="0" stop-color="#d41016" stop-opacity="0.45"/><stop offset="0.6" stop-color="#d41016" stop-opacity="0.2"/><stop offset="1" stop-color="#d41016" stop-opacity="0"/></radialGradient>
<linearGradient id="tfM" gradientUnits="userSpaceOnUse" x1="300" y1="366" x2="330" y2="388"><stop offset="0" stop-color="#fff" stop-opacity="0.5"/><stop offset="1" stop-color="#fff" stop-opacity="0"/></linearGradient>
<radialGradient id="preM0" gradientUnits="userSpaceOnUse" cx="412" cy="366" r="22" gradientTransform="translate(412 366) scale(1 1) translate(-412 -366)"><stop offset="0" stop-color="#d81a1a" stop-opacity="0.45"/><stop offset="0.5" stop-color="#d81a1a" stop-opacity="0.2"/><stop offset="1" stop-color="#d81a1a" stop-opacity="0"/></radialGradient>
<radialGradient id="postM0" gradientUnits="userSpaceOnUse" cx="300" cy="490" r="62" gradientTransform="translate(300 490) scale(1 1) translate(-300 -490)"><stop offset="0" stop-color="#ffffff" stop-opacity="1"/><stop offset="0.4" stop-color="#ffffff" stop-opacity="0.7"/><stop offset="0.65" stop-color="#ffffff" stop-opacity="0.3"/><stop offset="0.85" stop-color="#ffffff" stop-opacity="0.07"/><stop offset="1" stop-color="#ffffff" stop-opacity="0"/></radialGradient>
<radialGradient id="postM1" gradientUnits="userSpaceOnUse" cx="300" cy="366" r="46" gradientTransform="translate(300 366) scale(1 0.87) translate(-300 -366)"><stop offset="0" stop-color="#ffffff" stop-opacity="0.65"/><stop offset="0.4" stop-color="#ffffff" stop-opacity="0.32"/><stop offset="0.7" stop-color="#ffffff" stop-opacity="0.1"/><stop offset="1" stop-color="#ffffff" stop-opacity="0"/></radialGradient>
</defs>
<g clip-path="url(#clipM)">
<rect x="300.2" y="365.5" width="110.7" height="124.5" fill="url(#baseM)" />
<rect x="300.2" y="365.5" width="110.7" height="124.5" fill="url(#pkM)" />
<rect x="300.2" y="365.5" width="110.7" height="124.5" fill="url(#tfM)" />
<rect x="300.2" y="365.5" width="110.7" height="124.5" fill="url(#preM0)" />
<path d="M412 415.5 L380 416.5 C378 416.6 376 417.5 374 419.5 L370 423.3 L374 426.5 C377 428.5 380 429 386 429 L412 429.5" stroke="#f6806e" fill="none" stroke-width="0.9" stroke-opacity="0.85" filter="url(#soft)"/>
<path d="M412 409.5 L352 411 C348 411 346 411.5 344 413.5 L338.8 420.3 L344 427.5 C346 429.5 349 430.5 354 430.5 L412 432" stroke="#f6806e" fill="none" stroke-width="0.9" stroke-opacity="0.85" filter="url(#soft)"/>
<path d="M412 401 L345 404 C338.95 404 334 410.05 334 415 L334 425 C334 429.95 338.95 436 345 436 L412 437" stroke="#f6806e" fill="none" stroke-width="0.9" stroke-opacity="0.85" filter="url(#soft)"/>
<path d="M412 393 L344.5 396 C336.25 396 329.5 404.25 329.5 411 L329.5 426 C329.5 432.75 336.25 441 344.5 441 L412 442.5" stroke="#f6806e" fill="none" stroke-width="0.9" stroke-opacity="0.85" filter="url(#soft)"/>
<path d="M408 366 C407 381 404 384 395 384 L344 388 C333.55 388 325 398.45 325 407 L325 427 C325 435.55 333.55 446 344 446 L412 447.5" stroke="#f6806e" fill="none" stroke-width="0.9" stroke-opacity="0.85" filter="url(#soft)"/>
<path d="M400 366 C399 371 396 374 387 374 L342.5 380 C330.4 380 320.5 392.1 320.5 402 L320.5 429 C320.5 438.9 330.4 451 342.5 451 L412 452.5" stroke="#f6806e" fill="none" stroke-width="0.9" stroke-opacity="0.85" filter="url(#soft)"/>
<path d="M389 366 C388 366.5 385 369.5 376 369.5 L341 373 C327.25 373 316 386.75 316 398 L316 431 C316 442.25 327.25 456 341 456 L412 457.5" stroke="#f6806e" fill="none" stroke-width="0.9" stroke-opacity="0.85" filter="url(#soft)"/>
<line x1="328.1" y1="365.5" x2="328.1" y2="490" stroke="#ffffff" stroke-width="0.5" stroke-opacity="0.08"/>
<line x1="355.2" y1="365.5" x2="355.2" y2="490" stroke="#ffffff" stroke-width="0.5" stroke-opacity="0.08"/>
<line x1="382.3" y1="365.5" x2="382.3" y2="490" stroke="#ffffff" stroke-width="0.5" stroke-opacity="0.08"/>
<line x1="300.2" y1="368.7" x2="410.9" y2="368.7" stroke="#ffffff" stroke-width="0.5" stroke-opacity="0.08"/>
<line x1="300.2" y1="398.4" x2="410.9" y2="398.4" stroke="#ffffff" stroke-width="0.5" stroke-opacity="0.08"/>
<line x1="300.2" y1="429.2" x2="410.9" y2="429.2" stroke="#ffffff" stroke-width="0.5" stroke-opacity="0.08"/>
<line x1="300.2" y1="459" x2="410.9" y2="459" stroke="#ffffff" stroke-width="0.5" stroke-opacity="0.08"/>
<rect x="300.2" y="365.5" width="110.7" height="124.5" fill="url(#lfM)" />
<rect x="300.2" y="365.5" width="110.7" height="124.5" fill="url(#bfM)" />
<rect x="300.2" y="365.5" width="110.7" height="124.5" fill="url(#postM0)" />
<rect x="300.2" y="365.5" width="110.7" height="124.5" fill="url(#postM1)" />
<line x1="328.1" y1="365.5" x2="328.1" y2="490" stroke="#999" stroke-width="0.45" stroke-opacity="0.16"/>
<line x1="355.2" y1="365.5" x2="355.2" y2="490" stroke="#999" stroke-width="0.45" stroke-opacity="0.16"/>
<line x1="382.3" y1="365.5" x2="382.3" y2="490" stroke="#999" stroke-width="0.45" stroke-opacity="0.16"/>
<line x1="300.2" y1="368.7" x2="410.9" y2="368.7" stroke="#999" stroke-width="0.45" stroke-opacity="0.16"/>
<line x1="300.2" y1="398.4" x2="410.9" y2="398.4" stroke="#999" stroke-width="0.45" stroke-opacity="0.16"/>
<line x1="300.2" y1="429.2" x2="410.9" y2="429.2" stroke="#999" stroke-width="0.45" stroke-opacity="0.16"/>
<line x1="300.2" y1="459" x2="410.9" y2="459" stroke="#999" stroke-width="0.45" stroke-opacity="0.16"/>
</g>
<line x1="299.6" y1="365.5" x2="299.6" y2="492.4" stroke="#262626" stroke-width="1.1" />
<line x1="299.1" y1="491.9" x2="411.2" y2="491.9" stroke="#262626" stroke-width="1.1" />
<line x1="297.4" y1="368.7" x2="299.6" y2="368.7" stroke="#262626" stroke-width="0.9" />
<text x="294" y="370.85" font-size="6" stroke="#333" stroke-width="0.1" text-anchor="end">0.05</text>
<line x1="297.4" y1="398.4" x2="299.6" y2="398.4" stroke="#262626" stroke-width="0.9" />
<text x="294" y="400.55" font-size="6" stroke="#333" stroke-width="0.1" text-anchor="end">0.04</text>
<line x1="297.4" y1="429.2" x2="299.6" y2="429.2" stroke="#262626" stroke-width="0.9" />
<text x="294" y="431.35" font-size="6" stroke="#333" stroke-width="0.1" text-anchor="end">0.02</text>
<line x1="297.4" y1="459" x2="299.6" y2="459" stroke="#262626" stroke-width="0.9" />
<text x="294" y="461.15" font-size="6" stroke="#333" stroke-width="0.1" text-anchor="end">0.01</text>
<line x1="297.4" y1="489.2" x2="299.6" y2="489.2" stroke="#262626" stroke-width="0.9" />
<text x="294" y="491.35" font-size="6" stroke="#333" stroke-width="0.1" text-anchor="end">0</text>
<line x1="301" y1="491.9" x2="301" y2="494.3" stroke="#262626" stroke-width="0.9" />
<text x="301" y="503.2" font-size="6" stroke="#333" stroke-width="0.1" text-anchor="middle">0</text>
<line x1="328.1" y1="491.9" x2="328.1" y2="494.3" stroke="#262626" stroke-width="0.9" />
<text x="328.1" y="503.2" font-size="6" stroke="#333" stroke-width="0.1" text-anchor="middle">0.5</text>
<line x1="355.2" y1="491.9" x2="355.2" y2="494.3" stroke="#262626" stroke-width="0.9" />
<text x="355.2" y="503.2" font-size="6" stroke="#333" stroke-width="0.1" text-anchor="middle">1</text>
<line x1="382.3" y1="491.9" x2="382.3" y2="494.3" stroke="#262626" stroke-width="0.9" />
<text x="382.3" y="503.2" font-size="6" stroke="#333" stroke-width="0.1" text-anchor="middle">1.5</text>
<line x1="409.4" y1="491.9" x2="409.4" y2="494.3" stroke="#262626" stroke-width="0.9" />
<text x="409.4" y="503.2" font-size="6" stroke="#333" stroke-width="0.1" text-anchor="middle">2</text>
<text x="355.2" y="514.2" font-size="7.3" stroke="#222" stroke-width="0.25" text-anchor="middle" fill="#222" textLength="34.2" lengthAdjust="spacingAndGlyphs">ABT-199 (uM)</text>
<text x="274.4" y="429.2" font-size="6.7" stroke="#222" stroke-width="0.25" text-anchor="middle" fill="#222" textLength="26.8" lengthAdjust="spacingAndGlyphs" transform="rotate(-90 274.4 429.2)" dy="2.3">THZ1 (uM)</text>
<defs><linearGradient id="zcbM" x1="0" y1="0" x2="0" y2="1"><stop offset="0" stop-color="#d7191c"/><stop offset="0.25" stop-color="#ea6a6c"/><stop offset="0.47" stop-color="#fbeaea"/><stop offset="0.53" stop-color="#eef7ee"/><stop offset="0.75" stop-color="#7cc27c"/><stop offset="1" stop-color="#3a9a3a"/></linearGradient></defs>
<rect x="415.1" y="416.8" width="6.8" height="32" fill="url(#zcbM)" />
<text x="415.1" y="411.6" font-size="6" stroke="#333" stroke-width="0.1" textLength="24" lengthAdjust="spacingAndGlyphs">δ − score</text>
<text x="423.7" y="419.9" font-size="5.9" stroke="#333" stroke-width="0.1">60</text>
<text x="423.7" y="427.5" font-size="5.9" stroke="#333" stroke-width="0.1">30</text>
<text x="423.7" y="435.1" font-size="5.9" stroke="#333" stroke-width="0.1">0</text>
<text x="423.7" y="442.7" font-size="5.9" stroke="#333" stroke-width="0.1">−30</text>
<text x="423.7" y="450.3" font-size="5.9" stroke="#333" stroke-width="0.1">−60</text>
<text x="133.2" y="540.4" font-size="10.7" stroke="#111" stroke-width="0.1" fill="#111" font-weight="bold" stroke="#111" stroke-width="0.35">E</text>
<text x="226.3" y="540.5" font-size="7.4" stroke="#222" stroke-width="0.1" text-anchor="middle" fill="#222" textLength="19.6" lengthAdjust="spacingAndGlyphs">U266</text>
<text x="312.8" y="540.5" font-size="7.4" stroke="#222" stroke-width="0.1" text-anchor="middle" fill="#222" textLength="27.4" lengthAdjust="spacingAndGlyphs">MOLP8</text>
<text x="181.2" y="550.4" font-size="5.9" stroke="#333" stroke-width="0.06" text-anchor="end" textLength="37.2" lengthAdjust="spacingAndGlyphs">ABT 199 (µM)</text>
<text x="181.2" y="559.6" font-size="5.9" stroke="#333" stroke-width="0.06" text-anchor="end" textLength="28.5" lengthAdjust="spacingAndGlyphs">THZ1 (nM)</text>
<text x="195.8" y="550.6" font-size="6.2" stroke="#333" stroke-width="0.1" text-anchor="middle">−</text>
<text x="213" y="550.6" font-size="6.2" stroke="#333" stroke-width="0.1" text-anchor="middle">2</text>
<text x="234.5" y="550.6" font-size="6.2" stroke="#333" stroke-width="0.1" text-anchor="middle">−</text>
<text x="254.5" y="550.6" font-size="6.2" stroke="#333" stroke-width="0.1" text-anchor="middle">2</text>
<text x="282.7" y="550.6" font-size="6.2" stroke="#333" stroke-width="0.1" text-anchor="middle">−</text>
<text x="300.4" y="550.6" font-size="6.2" stroke="#333" stroke-width="0.1" text-anchor="middle">2</text>
<text x="322.7" y="550.6" font-size="6.2" stroke="#333" stroke-width="0.1" text-anchor="middle">−</text>
<text x="341.9" y="550.6" font-size="6.2" stroke="#333" stroke-width="0.1" text-anchor="middle">2</text>
<text x="195.8" y="559.6" font-size="6.2" stroke="#333" stroke-width="0.1" text-anchor="middle">−</text>
<text x="213" y="559.6" font-size="6.2" stroke="#333" stroke-width="0.1" text-anchor="middle">−</text>
<text x="237" y="559.6" font-size="6.2" stroke="#333" stroke-width="0.1" text-anchor="middle">100</text>
<text x="256" y="559.6" font-size="6.2" stroke="#333" stroke-width="0.1" text-anchor="middle">100</text>
<text x="282.7" y="559.6" font-size="6.2" stroke="#333" stroke-width="0.1" text-anchor="middle">−</text>
<text x="300.8" y="559.6" font-size="6.2" stroke="#333" stroke-width="0.1" text-anchor="middle">−</text>
<text x="321.9" y="559.6" font-size="6.2" stroke="#333" stroke-width="0.1" text-anchor="middle">75</text>
<text x="342.7" y="559.6" font-size="6.2" stroke="#333" stroke-width="0.1" text-anchor="middle">75</text>
<text x="180.9" y="574.5" font-size="5.9" stroke="#333" stroke-width="0.1" text-anchor="end" textLength="19.6" lengthAdjust="spacingAndGlyphs">T PARP</text>
<text x="180.9" y="587.4" font-size="5.9" stroke="#333" stroke-width="0.1" text-anchor="end" textLength="21.6" lengthAdjust="spacingAndGlyphs">C PARP</text>
<text x="180.9" y="611.6" font-size="5.9" stroke="#333" stroke-width="0.1" text-anchor="end" textLength="31.9" lengthAdjust="spacingAndGlyphs">CASPASE 3</text>
<text x="180.9" y="636.5" font-size="5.9" stroke="#333" stroke-width="0.1" text-anchor="end" textLength="21.6" lengthAdjust="spacingAndGlyphs">β-ACTIN</text>
<text x="358.4" y="573.9" font-size="6" stroke="#333" stroke-width="0.1" textLength="22.5" lengthAdjust="spacingAndGlyphs">116 kDa</text>
<text x="358.4" y="586.6" font-size="6" stroke="#333" stroke-width="0.1" textLength="18.8" lengthAdjust="spacingAndGlyphs">89 kDa</text>
<text x="358.4" y="601.6" font-size="6" stroke="#333" stroke-width="0.1" textLength="18.8" lengthAdjust="spacingAndGlyphs">19 kDa</text>
<text x="358.4" y="616.8" font-size="6" stroke="#333" stroke-width="0.1" textLength="18.8" lengthAdjust="spacingAndGlyphs">17 kDa</text>
<text x="358.4" y="635.2" font-size="6" stroke="#333" stroke-width="0.1" textLength="18.8" lengthAdjust="spacingAndGlyphs">43 kDa</text>
<defs><filter id="bl" x="-20%" y="-80%" width="140%" height="260%"><feGaussianBlur stdDeviation="0.7"/></filter></defs>
<rect x="184.6" y="564.6" width="83.4" height="27.8" fill="#adadad" stroke="#6a6a6a" stroke-width="0.9"/>
<rect x="184.6" y="595.9" width="83.4" height="23.9" fill="#adadad" stroke="#6a6a6a" stroke-width="0.9"/>
<rect x="184.6" y="623.6" width="83.4" height="18.9" fill="#adadad" stroke="#6a6a6a" stroke-width="0.9"/>
<rect x="271.7" y="564.6" width="82.2" height="27.8" fill="#adadad" stroke="#6a6a6a" stroke-width="0.9"/>
<rect x="271.7" y="595.9" width="82.2" height="23.9" fill="#adadad" stroke="#6a6a6a" stroke-width="0.9"/>
<rect x="271.7" y="623.6" width="82.2" height="18.9" fill="#adadad" stroke="#6a6a6a" stroke-width="0.9"/>
<g>
<path d="M188 572.5 C188 570.5 190 570.5 192 570.5 L202.8 571.5 C205.8 571.5 205.8 572.7 205.8 573.5 C205.8 574.5 204.8 575.5 202.8 575.5 L192 574.5 C190 574.5 188 574.5 188 572.5 Z" fill="#0d0d0d" fill-opacity="1" filter="url(#bl)"/>
<path d="M208.8 573.2 C208.8 571.3 210.8 571.3 212.8 571.3 L221 572.1 C224 572.1 224 573.24 224 574 C224 574.95 223 575.9 221 575.9 L212.8 575.1 C210.8 575.1 208.8 575.1 208.8 573.2 Z" fill="#0d0d0d" fill-opacity="1" filter="url(#bl)"/>
<path d="M248.5 576.8 C248.5 576.2 250.5 576.2 252.5 576.2 L258.5 576.2 C261.5 576.2 261.5 576.56 261.5 576.8 C261.5 577.1 260.5 577.4 258.5 577.4 L252.5 577.4 C250.5 577.4 248.5 577.4 248.5 576.8 Z" fill="#0d0d0d" fill-opacity="0.12" filter="url(#bl)"/>
<path d="M227.4 584 C227.4 582.3 229.4 582.3 231.4 582.3 L240.5 582.7 C243.5 582.7 243.5 583.72 243.5 584.4 C243.5 585.25 242.5 586.1 240.5 586.1 L231.4 585.7 C229.4 585.7 227.4 585.7 227.4 584 Z" fill="#0d0d0d" fill-opacity="1" filter="url(#bl)"/>
<path d="M245.5 584.4 C245.5 581.9 247.5 581.9 249.5 581.9 L260.4 582.3 C263.4 582.3 263.4 583.8 263.4 584.8 C263.4 586.05 262.4 587.3 260.4 587.3 L249.5 586.9 C247.5 586.9 245.5 586.9 245.5 584.4 Z" fill="#0d0d0d" fill-opacity="1" filter="url(#bl)"/>
<path d="M224 603.8 C224 602.7 226 602.7 228 602.7 L235.7 602.7 C238.7 602.7 238.7 603.36 238.7 603.8 C238.7 604.35 237.7 604.9 235.7 604.9 L228 604.9 C226 604.9 224 604.9 224 603.8 Z" fill="#0d0d0d" fill-opacity="0.35" filter="url(#bl)"/>
<path d="M241.5 603.6 C241.5 601.7 243.5 601.7 245.5 601.7 L258 602.1 C261 602.1 261 603.24 261 604 C261 604.95 260 605.9 258 605.9 L245.5 605.5 C243.5 605.5 241.5 605.5 241.5 603.6 Z" fill="#0d0d0d" fill-opacity="1" filter="url(#bl)"/>
<path d="M242 616 C242 614.3 244 614.3 246 614.3 L258 614.7 C261 614.7 261 615.72 261 616.4 C261 617.25 260 618.1 258 618.1 L246 617.7 C244 617.7 242 617.7 242 616 Z" fill="#0d0d0d" fill-opacity="1" filter="url(#bl)"/>
<path d="M187.8 634.2 C187.8 632.5 189.8 632.5 191.8 632.5 L204 632.9 C207 632.9 207 633.92 207 634.6 C207 635.45 206 636.3 204 636.3 L191.8 635.9 C189.8 635.9 187.8 635.9 187.8 634.2 Z" fill="#0d0d0d" fill-opacity="1" filter="url(#bl)"/>
<path d="M208 634.4 C208 632.8 210 632.8 212 632.8 L222.2 633.2 C225.2 633.2 225.2 634.16 225.2 634.8 C225.2 635.6 224.2 636.4 222.2 636.4 L212 636 C210 636 208 636 208 634.4 Z" fill="#0d0d0d" fill-opacity="1" filter="url(#bl)"/>
<path d="M227.1 634.6 C227.1 633 229.1 633 231.1 633 L241.4 633.4 C244.4 633.4 244.4 634.36 244.4 635 C244.4 635.8 243.4 636.6 241.4 636.6 L231.1 636.2 C229.1 636.2 227.1 636.2 227.1 634.6 Z" fill="#0d0d0d" fill-opacity="1" filter="url(#bl)"/>
<path d="M246.3 634.8 C246.3 633.1 248.3 633.1 250.3 633.1 L260.7 633.5 C263.7 633.5 263.7 634.52 263.7 635.2 C263.7 636.05 262.7 636.9 260.7 636.9 L250.3 636.5 C248.3 636.5 246.3 636.5 246.3 634.8 Z" fill="#0d0d0d" fill-opacity="1" filter="url(#bl)"/>
<path d="M277.5 574.1 C277.5 572.6 279.5 572.6 281.5 572.6 L290.8 573 C293.8 573 293.8 573.9 293.8 574.5 C293.8 575.25 292.8 576 290.8 576 L281.5 575.6 C279.5 575.6 277.5 575.6 277.5 574.1 Z" fill="#0d0d0d" fill-opacity="1" filter="url(#bl)"/>
<path d="M296 573.6 C296 572.1 298 572.1 300 572.1 L308.2 571.3 C311.2 571.3 311.2 572.2 311.2 572.8 C311.2 573.55 310.2 574.3 308.2 574.3 L300 575.1 C298 575.1 296 575.1 296 573.6 Z" fill="#0d0d0d" fill-opacity="1" filter="url(#bl)"/>
<path d="M298.8 585.5 C298.8 584.7 300.8 584.7 302.8 584.7 L308.3 584.1 C311.3 584.1 311.3 584.58 311.3 584.9 C311.3 585.3 310.3 585.7 308.3 585.7 L302.8 586.3 C300.8 586.3 298.8 586.3 298.8 585.5 Z" fill="#0d0d0d" fill-opacity="0.35" filter="url(#bl)"/>
<path d="M315 584.2 C315 582.5 317 582.5 319 582.5 L326.5 581.9 C329.5 581.9 329.5 582.92 329.5 583.6 C329.5 584.45 328.5 585.3 326.5 585.3 L319 585.9 C317 585.9 315 585.9 315 584.2 Z" fill="#0d0d0d" fill-opacity="1" filter="url(#bl)"/>
<path d="M332.5 582.9 C332.5 580.6 334.5 580.6 336.5 580.6 L344.8 580 C347.8 580 347.8 581.38 347.8 582.3 C347.8 583.45 346.8 584.6 344.8 584.6 L336.5 585.2 C334.5 585.2 332.5 585.2 332.5 582.9 Z" fill="#0d0d0d" fill-opacity="1" filter="url(#bl)"/>
<path d="M315 600.6 C315 599.1 317 599.1 319 599.1 L327 599.1 C330 599.1 330 600 330 600.6 C330 601.35 329 602.1 327 602.1 L319 602.1 C317 602.1 315 602.1 315 600.6 Z" fill="#0d0d0d" fill-opacity="1" filter="url(#bl)"/>
<path d="M330.8 600 C330.8 598.2 332.8 598.2 334.8 598.2 L346 598.2 C349 598.2 349 599.28 349 600 C349 600.9 348 601.8 346 601.8 L334.8 601.8 C332.8 601.8 330.8 601.8 330.8 600 Z" fill="#0d0d0d" fill-opacity="1" filter="url(#bl)"/>
<path d="M316 615.1 C316 613.7 318 613.7 320 613.7 L326 613.7 C329 613.7 329 614.54 329 615.1 C329 615.8 328 616.5 326 616.5 L320 616.5 C318 616.5 316 616.5 316 615.1 Z" fill="#0d0d0d" fill-opacity="0.5" filter="url(#bl)"/>
<path d="M332.5 614.9 C332.5 613.5 334.5 613.5 336.5 613.5 L347 613.5 C350 613.5 350 614.34 350 614.9 C350 615.6 349 616.3 347 616.3 L336.5 616.3 C334.5 616.3 332.5 616.3 332.5 614.9 Z" fill="#0d0d0d" fill-opacity="0.6" filter="url(#bl)"/>
<path d="M275.5 634.2 C275.5 632.5 277.5 632.5 279.5 632.5 L290.8 632.9 C293.8 632.9 293.8 633.92 293.8 634.6 C293.8 635.45 292.8 636.3 290.8 636.3 L279.5 635.9 C277.5 635.9 275.5 635.9 275.5 634.2 Z" fill="#0d0d0d" fill-opacity="1" filter="url(#bl)"/>
<path d="M295 634.2 C295 632.6 297 632.6 299 632.6 L310 632.6 C313 632.6 313 633.56 313 634.2 C313 635 312 635.8 310 635.8 L299 635.8 C297 635.8 295 635.8 295 634.2 Z" fill="#0d0d0d" fill-opacity="1" filter="url(#bl)"/>
<path d="M315 634 C315 632.4 317 632.4 319 632.4 L328.3 632.4 C331.3 632.4 331.3 633.36 331.3 634 C331.3 634.8 330.3 635.6 328.3 635.6 L319 635.6 C317 635.6 315 635.6 315 634 Z" fill="#0d0d0d" fill-opacity="1" filter="url(#bl)"/>
<path d="M333 633.6 C333 631.8 335 631.8 337 631.8 L346.5 631.8 C349.5 631.8 349.5 632.88 349.5 633.6 C349.5 634.5 348.5 635.4 346.5 635.4 L337 635.4 C335 635.4 333 635.4 333 633.6 Z" fill="#0d0d0d" fill-opacity="1" filter="url(#bl)"/>
</g>
<rect x="0.5" y="0.5" width="519" height="649" fill="none" stroke="#555" stroke-width="1"/>
</svg>
</body></html>
